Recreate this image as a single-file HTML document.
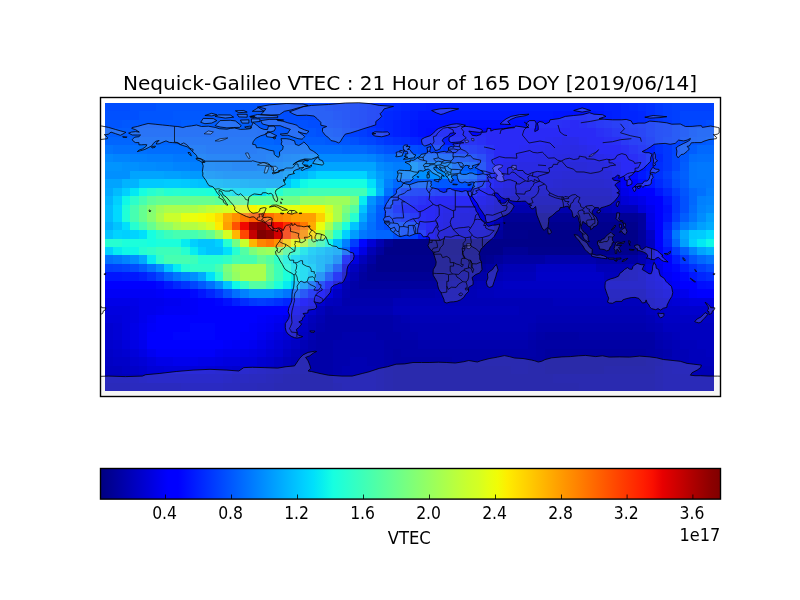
<!DOCTYPE html>
<html><head><meta charset="utf-8"><title>Nequick-Galileo VTEC</title>
<style>
html,body{margin:0;padding:0;background:#fff;overflow:hidden}
svg{display:block}
text{font-family:"DejaVu Sans","Bitstream Vera Sans","Liberation Sans",sans-serif;fill:#000}
</style></head><body>
<svg width="800" height="600" viewBox="0 0 800 600">
<defs><linearGradient id="jet" x1="0" x2="1" y1="0" y2="0"><stop offset="0.0000" stop-color="#000080"/><stop offset="0.0156" stop-color="#000092"/><stop offset="0.0312" stop-color="#0000a4"/><stop offset="0.0469" stop-color="#0000b6"/><stop offset="0.0625" stop-color="#0000c8"/><stop offset="0.0781" stop-color="#0000da"/><stop offset="0.0938" stop-color="#0000ed"/><stop offset="0.1094" stop-color="#0000ff"/><stop offset="0.1250" stop-color="#0000ff"/><stop offset="0.1406" stop-color="#0010ff"/><stop offset="0.1562" stop-color="#0020ff"/><stop offset="0.1719" stop-color="#0030ff"/><stop offset="0.1875" stop-color="#0040ff"/><stop offset="0.2031" stop-color="#0050ff"/><stop offset="0.2188" stop-color="#0060ff"/><stop offset="0.2344" stop-color="#0070ff"/><stop offset="0.2500" stop-color="#0080ff"/><stop offset="0.2656" stop-color="#0090ff"/><stop offset="0.2812" stop-color="#00a0ff"/><stop offset="0.2969" stop-color="#00b0ff"/><stop offset="0.3125" stop-color="#00c0ff"/><stop offset="0.3281" stop-color="#00d0ff"/><stop offset="0.3438" stop-color="#00e0fb"/><stop offset="0.3594" stop-color="#09f0ee"/><stop offset="0.3750" stop-color="#16ffe1"/><stop offset="0.3906" stop-color="#23ffd4"/><stop offset="0.4062" stop-color="#30ffc7"/><stop offset="0.4219" stop-color="#3cffba"/><stop offset="0.4375" stop-color="#49ffad"/><stop offset="0.4531" stop-color="#56ffa0"/><stop offset="0.4688" stop-color="#63ff94"/><stop offset="0.4844" stop-color="#70ff87"/><stop offset="0.5000" stop-color="#7dff7a"/><stop offset="0.5156" stop-color="#8aff6d"/><stop offset="0.5312" stop-color="#97ff60"/><stop offset="0.5469" stop-color="#a4ff53"/><stop offset="0.5625" stop-color="#b1ff46"/><stop offset="0.5781" stop-color="#beff39"/><stop offset="0.5938" stop-color="#caff2c"/><stop offset="0.6094" stop-color="#d4ff23"/><stop offset="0.6250" stop-color="#e4ff13"/><stop offset="0.6406" stop-color="#f1fc06"/><stop offset="0.6562" stop-color="#feed00"/><stop offset="0.6719" stop-color="#ffde00"/><stop offset="0.6875" stop-color="#ffd000"/><stop offset="0.7031" stop-color="#ffc100"/><stop offset="0.7188" stop-color="#ffb200"/><stop offset="0.7344" stop-color="#ffa300"/><stop offset="0.7500" stop-color="#ff9400"/><stop offset="0.7656" stop-color="#ff8600"/><stop offset="0.7812" stop-color="#ff7700"/><stop offset="0.7969" stop-color="#ff6800"/><stop offset="0.8125" stop-color="#ff5900"/><stop offset="0.8281" stop-color="#ff4a00"/><stop offset="0.8438" stop-color="#ff3b00"/><stop offset="0.8594" stop-color="#ff2d00"/><stop offset="0.8750" stop-color="#ff1e00"/><stop offset="0.8906" stop-color="#fa0f00"/><stop offset="0.9062" stop-color="#e80000"/><stop offset="0.9219" stop-color="#d60000"/><stop offset="0.9375" stop-color="#c40000"/><stop offset="0.9531" stop-color="#b10000"/><stop offset="0.9688" stop-color="#9f0000"/><stop offset="0.9844" stop-color="#8d0000"/><stop offset="1.0000" stop-color="#800000"/></linearGradient>
<clipPath id="ax"><rect x="100.5" y="97.5" width="620" height="299"/></clipPath>
</defs>
<rect width="800" height="600" fill="#fff"/>
<g shape-rendering="crispEdges">
<path fill="#004dff" d="M105 103h25v8h-25zM274 103h17v8h-17zM283 111h17v9h-17zM308 120h17v8h-17zM706 120h8v8h-8zM333 128h9v9h-9zM680 137h9v8h-9zM393 145h25v9h-25zM452 154h8v8h-8zM469 179h8v9h-8zM384 196h9v9h-9zM384 222h9v8h-9zM130 264h9v8h-9zM706 264h8v8h-8zM325 272h8v9h-8z"/>
<path fill="#0050ff" d="M130 103h26v8h-26zM257 103h17v8h-17zM105 111h34v9h-34zM266 111h17v9h-17zM283 120h25v8h-25zM316 128h17v9h-17zM689 128h8v9h-8zM350 137h9v8h-9zM384 145h9v9h-9zM672 179h8v9h-8zM680 196h9v9h-9zM680 205h9v8h-9zM393 230h8v9h-8zM333 264h9v8h-9z"/>
<path fill="#0055ff" d="M156 103h101v8h-101zM139 111h34v9h-34zM232 111h34v9h-34zM105 120h17v8h-17zM266 120h17v8h-17zM300 128h16v9h-16zM697 128h17v9h-17zM333 137h17v8h-17zM689 137h8v8h-8zM680 145h9v9h-9zM672 171h8v8h-8zM452 179h17v9h-17zM680 188h9v8h-9zM672 222h8v8h-8zM689 255h8v9h-8zM223 289h9v9h-9z"/>
<path fill="#0048ff" d="M291 103h17v8h-17zM300 111h16v9h-16zM325 120h8v8h-8zM689 120h17v8h-17zM680 128h9v9h-9zM359 137h8v8h-8zM418 145h8v9h-8zM672 154h8v8h-8zM672 162h8v9h-8zM393 188h8v8h-8zM393 222h8v8h-8z"/>
<path fill="#0045ff" d="M308 103h17v8h-17zM316 111h17v9h-17zM680 111h34v9h-34zM333 120h9v8h-9zM680 120h9v8h-9zM342 128h8v9h-8zM367 137h9v8h-9zM672 145h8v9h-8zM460 154h9v8h-9zM401 222h9v8h-9zM401 230h9v9h-9zM122 264h8v8h-8zM156 272h8v9h-8zM190 281h8v8h-8z"/>
<path fill="#0040ff" d="M325 103h8v8h-8zM672 103h42v8h-42zM333 111h9v9h-9zM672 111h8v9h-8zM342 120h8v8h-8zM672 120h8v8h-8zM350 128h9v9h-9zM672 128h8v9h-8zM672 137h8v8h-8zM426 145h9v9h-9zM663 171h9v8h-9zM672 188h8v8h-8zM410 230h8v9h-8zM113 264h9v8h-9zM697 264h9v8h-9z"/>
<path fill="#003dff" d="M333 103h17v8h-17zM663 103h9v8h-9zM342 111h8v9h-8zM663 111h9v9h-9zM359 128h8v9h-8zM376 137h8v8h-8zM663 137h9v8h-9zM435 145h8v9h-8zM469 154h8v8h-8zM477 162h9v9h-9zM477 171h9v8h-9zM384 213h9v9h-9zM672 213h8v9h-8zM410 222h8v8h-8zM350 239h9v8h-9zM672 247h8v8h-8zM105 264h8v8h-8zM300 289h8v9h-8zM257 298h9v8h-9z"/>
<path fill="#0038ff" d="M350 103h9v8h-9zM655 103h8v8h-8zM350 111h9v9h-9zM655 111h8v9h-8zM350 120h9v8h-9zM663 120h9v8h-9zM663 128h9v9h-9zM663 145h9v9h-9zM663 154h9v8h-9zM663 162h9v9h-9zM663 179h9v9h-9zM401 188h9v8h-9zM384 205h9v8h-9zM680 255h9v9h-9zM316 281h9v8h-9zM215 289h8v9h-8zM249 298h8v8h-8zM266 298h8v8h-8z"/>
<path fill="#0035ff" d="M359 103h8v8h-8zM359 111h8v9h-8zM359 120h8v8h-8zM655 120h8v8h-8zM367 128h9v9h-9zM655 128h8v9h-8zM384 137h9v8h-9zM655 137h8v8h-8zM443 145h9v9h-9zM672 196h8v9h-8zM672 205h8v8h-8zM181 281h9v8h-9z"/>
<path fill="#0030ff" d="M367 103h9v8h-9zM646 103h9v8h-9zM367 111h9v9h-9zM646 111h9v9h-9zM393 137h8v8h-8zM655 145h8v9h-8zM477 154h9v8h-9zM655 171h8v8h-8zM410 188h8v8h-8zM663 230h9v9h-9zM689 264h8v8h-8zM147 272h9v9h-9zM274 298h9v8h-9z"/>
<path fill="#002dff" d="M376 103h17v8h-17zM638 103h8v8h-8zM376 111h8v9h-8zM367 120h9v8h-9zM646 120h9v8h-9zM376 128h8v9h-8zM646 128h9v9h-9zM401 137h9v8h-9zM452 145h8v9h-8zM655 162h8v9h-8zM418 188h17v8h-17zM393 213h8v9h-8zM706 272h8v9h-8zM240 298h9v8h-9z"/>
<path fill="#0028ff" d="M393 103h8v8h-8zM629 103h9v8h-9zM384 111h9v9h-9zM638 111h8v9h-8zM376 120h8v8h-8zM638 120h8v8h-8zM646 137h9v8h-9zM655 154h8v8h-8zM477 179h9v9h-9zM655 179h8v9h-8zM435 188h8v8h-8zM663 188h9v8h-9zM393 196h8v9h-8zM663 239h9v8h-9zM173 281h8v8h-8z"/>
<path fill="#0025ff" d="M401 103h9v8h-9zM621 103h8v8h-8zM393 111h8v9h-8zM621 111h17v9h-17zM384 120h9v8h-9zM629 120h9v8h-9zM384 128h9v9h-9zM638 128h8v9h-8zM410 137h8v8h-8zM460 145h9v9h-9zM646 171h9v8h-9zM443 188h9v8h-9zM401 213h9v9h-9zM663 222h9v8h-9zM697 272h9v9h-9zM206 289h9v9h-9zM283 298h8v8h-8z"/>
<path fill="#0020ff" d="M410 103h16v8h-16zM604 103h17v8h-17zM401 111h9v9h-9zM612 111h9v9h-9zM393 120h8v8h-8zM621 120h8v8h-8zM393 128h8v9h-8zM629 128h9v9h-9zM418 137h8v8h-8zM638 137h8v8h-8zM469 145h8v9h-8zM646 145h9v9h-9zM452 188h17v8h-17zM418 230h8v9h-8zM139 272h8v9h-8zM232 298h8v8h-8z"/>
<path fill="#001dff" d="M426 103h178v8h-178zM410 111h8v9h-8zM604 111h8v9h-8zM401 120h9v8h-9zM612 120h9v8h-9zM401 128h9v9h-9zM621 128h8v9h-8zM426 137h17v8h-17zM629 137h9v8h-9zM646 154h9v8h-9zM646 162h9v9h-9zM401 196h9v9h-9zM393 205h8v8h-8zM672 255h8v9h-8zM680 264h9v8h-9zM308 289h8v9h-8z"/>
<path fill="#0058ff" d="M173 111h59v9h-59zM122 120h59v8h-59zM257 120h9v8h-9zM274 128h26v9h-26zM325 137h8v8h-8zM697 137h9v8h-9zM376 145h8v9h-8zM680 154h9v8h-9zM469 162h8v9h-8zM410 179h8v9h-8zM435 179h17v9h-17zM376 213h8v9h-8zM376 222h8v8h-8zM198 281h8v8h-8z"/>
<path fill="#0018ff" d="M418 111h135v9h-135zM596 111h8v9h-8zM604 120h8v8h-8zM443 137h9v8h-9zM477 145h9v9h-9zM638 145h8v9h-8zM486 162h8v9h-8zM638 171h8v8h-8zM646 179h9v9h-9zM469 188h8v8h-8zM663 196h9v9h-9zM410 213h8v9h-8zM122 272h17v9h-17zM689 272h8v9h-8zM164 281h9v8h-9z"/>
<path fill="#0015ff" d="M553 111h17v9h-17zM587 111h9v9h-9zM410 120h8v8h-8zM596 120h8v8h-8zM410 128h8v9h-8zM612 128h9v9h-9zM621 137h8v8h-8zM486 154h8v8h-8zM486 171h8v8h-8zM655 188h8v8h-8zM410 196h8v9h-8zM663 213h9v9h-9zM350 247h9v8h-9zM663 247h9v8h-9zM342 255h8v9h-8zM105 272h17v9h-17zM333 272h9v9h-9zM198 289h8v9h-8z"/>
<path fill="#0010ff" d="M570 111h17v9h-17zM418 120h51v8h-51zM418 128h8v9h-8zM452 137h8v8h-8zM629 145h9v9h-9zM638 154h8v8h-8zM638 162h8v9h-8zM401 205h9v8h-9zM663 205h9v8h-9zM706 281h8v8h-8zM223 298h9v8h-9zM291 298h9v8h-9z"/>
<path fill="#005dff" d="M181 120h76v8h-76zM105 128h110v9h-110zM257 128h17v9h-17zM300 137h25v8h-25zM706 137h8v8h-8zM689 145h8v9h-8zM443 154h9v8h-9zM680 162h9v9h-9zM401 179h9v9h-9zM418 179h17v9h-17zM680 179h9v9h-9zM376 205h8v8h-8zM680 213h9v9h-9zM139 264h8v8h-8zM291 289h9v9h-9z"/>
<path fill="#000dff" d="M469 120h59v8h-59zM587 120h9v8h-9zM426 128h26v9h-26zM604 128h8v9h-8zM460 137h17v8h-17zM486 145h8v9h-8zM638 179h8v9h-8zM418 196h8v9h-8zM418 222h8v8h-8zM325 281h8v8h-8zM697 281h9v8h-9z"/>
<path fill="#0008ff" d="M528 120h34v8h-34zM452 128h17v9h-17zM596 128h8v9h-8zM477 137h9v8h-9zM612 137h9v8h-9zM629 171h9v8h-9zM410 205h8v8h-8zM672 264h8v8h-8zM680 272h9v9h-9zM156 281h8v8h-8zM190 289h8v9h-8z"/>
<path fill="#0005ff" d="M562 120h8v8h-8zM579 120h8v8h-8zM469 128h17v9h-17zM604 137h8v8h-8zM621 145h8v9h-8zM629 154h9v8h-9zM486 179h8v9h-8zM477 188h9v8h-9zM426 196h9v9h-9zM418 213h8v9h-8zM359 239h8v8h-8zM215 298h8v8h-8zM190 323h25v9h-25zM173 332h42v8h-42z"/>
<path fill="#0000ff" d="M570 120h9v8h-9zM486 128h110v9h-110zM486 137h59v8h-59zM587 137h17v8h-17zM494 145h25v9h-25zM596 145h25v9h-25zM494 154h9v8h-9zM621 154h8v8h-8zM494 162h9v9h-9zM621 162h17v9h-17zM494 171h9v8h-9zM621 171h8v8h-8zM629 179h9v9h-9zM638 188h17v8h-17zM435 196h42v9h-42zM655 196h8v9h-8zM418 205h17v8h-17zM655 205h8v8h-8zM426 213h9v9h-9zM655 213h8v9h-8zM426 222h9v8h-9zM655 222h8v8h-8zM655 230h8v9h-8zM655 239h8v8h-8zM663 255h9v9h-9zM663 264h9v8h-9zM672 272h8v9h-8zM105 281h51v8h-51zM680 281h17v8h-17zM164 289h26v9h-26zM316 289h9v9h-9zM697 289h17v9h-17zM198 298h17v8h-17zM300 298h8v8h-8zM198 306h93v9h-93zM156 315h101v8h-101zM156 323h34v9h-34zM215 323h34v9h-34zM147 332h26v8h-26zM215 332h25v8h-25zM147 340h76v9h-76z"/>
<path fill="#0060ff" d="M215 128h42v9h-42zM274 137h26v8h-26zM367 145h9v9h-9zM426 154h17v8h-17zM460 162h9v9h-9zM680 171h9v8h-9zM680 247h9v8h-9zM164 272h9v9h-9z"/>
<path fill="#0065ff" d="M105 137h169v8h-169zM418 154h8v8h-8zM452 162h8v9h-8zM469 171h8v8h-8zM376 230h17v9h-17zM672 239h8v8h-8zM342 247h8v8h-8z"/>
<path fill="#0000fa" d="M545 137h8v8h-8zM579 137h8v8h-8zM519 145h9v9h-9zM503 154h8v8h-8zM612 154h9v8h-9zM621 179h8v9h-8zM646 196h9v9h-9zM655 247h8v8h-8zM156 289h8v9h-8zM689 289h8v9h-8zM190 298h8v8h-8zM190 306h8v9h-8zM257 315h9v8h-9zM147 323h9v9h-9zM249 323h8v9h-8zM240 332h17v8h-17zM223 340h9v9h-9zM156 349h59v8h-59z"/>
<path fill="#0000f6" d="M553 137h9v8h-9zM528 145h17v9h-17zM587 145h9v9h-9zM511 154h8v8h-8zM604 154h8v8h-8zM486 188h8v8h-8zM629 188h9v8h-9zM435 205h8v8h-8zM426 230h9v9h-9zM663 272h9v9h-9zM672 281h8v8h-8zM105 289h51v9h-51zM181 298h9v8h-9zM164 306h26v9h-26zM147 315h9v8h-9zM266 315h8v8h-8zM257 323h9v9h-9zM232 340h17v9h-17z"/>
<path fill="#0000f1" d="M562 137h17v8h-17zM545 145h8v9h-8zM519 154h17v8h-17zM503 162h8v9h-8zM494 179h9v9h-9zM477 196h9v9h-9zM435 213h8v9h-8zM655 255h8v9h-8zM164 298h17v8h-17zM156 306h8v9h-8zM291 306h9v9h-9zM274 315h9v8h-9zM139 323h8v9h-8zM266 323h8v9h-8zM139 332h8v8h-8zM257 332h9v8h-9zM249 340h8v9h-8zM147 349h9v8h-9zM215 349h8v8h-8z"/>
<path fill="#0075ff" d="M105 145h8v9h-8zM206 154h34v8h-34zM266 154h8v8h-8zM689 162h8v9h-8zM689 171h8v8h-8zM689 179h17v9h-17zM689 213h8v9h-8zM706 255h8v9h-8zM147 264h9v8h-9zM173 272h8v9h-8zM283 289h8v9h-8z"/>
<path fill="#0070ff" d="M113 145h34v9h-34zM240 154h26v8h-26zM697 154h17v8h-17zM384 188h9v8h-9zM697 188h9v8h-9zM376 196h8v9h-8zM367 222h9v8h-9zM105 255h8v9h-8zM206 281h9v8h-9zM232 289h8v9h-8z"/>
<path fill="#006dff" d="M147 145h59v9h-59zM257 145h85v9h-85zM384 154h34v8h-34zM689 154h8v8h-8zM452 171h17v8h-17zM689 205h8v8h-8zM367 230h9v9h-9zM308 281h8v8h-8z"/>
<path fill="#0068ff" d="M206 145h51v9h-51zM342 145h25v9h-25zM697 145h17v9h-17zM393 179h8v9h-8zM689 188h8v8h-8zM689 196h8v9h-8zM697 255h9v9h-9z"/>
<path fill="#0000ed" d="M553 145h17v9h-17zM579 145h8v9h-8zM536 154h17v8h-17zM596 154h8v8h-8zM511 162h8v9h-8zM612 162h9v9h-9zM443 205h9v8h-9zM646 205h9v8h-9zM435 222h8v8h-8zM663 281h9v8h-9zM680 289h9v9h-9zM139 298h25v8h-25zM308 298h8v8h-8zM139 306h17v9h-17zM139 315h8v8h-8zM139 340h8v9h-8zM223 349h17v8h-17zM173 357h25v9h-25z"/>
<path fill="#0000e8" d="M570 145h9v9h-9zM553 154h9v8h-9zM587 154h9v8h-9zM519 162h26v9h-26zM503 171h8v8h-8zM612 171h9v8h-9zM621 188h8v8h-8zM638 196h8v9h-8zM452 205h17v8h-17zM443 213h9v9h-9zM655 264h8v8h-8zM105 298h34v8h-34zM283 315h8v8h-8zM130 323h9v9h-9zM274 323h9v9h-9zM130 332h9v8h-9zM266 332h8v8h-8zM257 340h9v9h-9zM240 349h9v8h-9zM156 357h17v9h-17zM198 357h17v9h-17z"/>
<path fill="#0089ff" d="M105 154h8v8h-8zM308 154h59v8h-59zM156 162h17v9h-17zM283 162h8v9h-8zM333 255h9v9h-9zM325 264h8v8h-8zM316 272h9v9h-9z"/>
<path fill="#0084ff" d="M113 154h17v8h-17zM300 154h8v8h-8zM367 154h9v8h-9zM173 162h17v9h-17zM274 162h9v9h-9zM384 162h9v9h-9zM393 171h8v8h-8zM706 196h8v9h-8zM367 205h9v8h-9zM697 205h9v8h-9zM689 247h8v8h-8zM122 255h8v9h-8zM181 272h9v9h-9zM274 289h9v9h-9z"/>
<path fill="#0080ff" d="M130 154h17v8h-17zM291 154h9v8h-9zM190 162h25v9h-25zM266 162h8v9h-8zM401 171h9v8h-9zM384 179h9v9h-9zM697 196h9v9h-9zM342 239h8v8h-8zM240 289h9v9h-9z"/>
<path fill="#007dff" d="M147 154h26v8h-26zM283 154h8v8h-8zM215 162h17v9h-17zM257 162h9v9h-9zM393 162h17v9h-17zM418 162h34v9h-34zM706 188h8v8h-8z"/>
<path fill="#0078ff" d="M173 154h33v8h-33zM274 154h9v8h-9zM376 154h8v8h-8zM232 162h25v9h-25zM697 162h17v9h-17zM697 171h17v8h-17zM706 179h8v9h-8zM367 213h9v9h-9zM680 222h9v8h-9zM359 230h8v9h-8zM672 230h8v9h-8zM113 255h9v9h-9z"/>
<path fill="#0000e4" d="M562 154h25v8h-25zM545 162h8v9h-8zM604 162h8v9h-8zM511 171h17v8h-17zM503 179h8v9h-8zM486 196h8v9h-8zM469 205h8v8h-8zM452 213h8v9h-8zM646 213h9v9h-9zM443 222h9v8h-9zM359 247h8v8h-8zM655 272h8v9h-8zM672 289h8v9h-8zM130 306h9v9h-9zM130 315h9v8h-9zM130 340h9v9h-9zM139 349h8v8h-8zM249 349h8v8h-8zM215 357h8v9h-8z"/>
<path fill="#0094ff" d="M105 162h17v9h-17zM300 162h8v9h-8zM206 171h9v8h-9zM367 196h9v9h-9z"/>
<path fill="#0090ff" d="M122 162h17v9h-17zM410 162h8v9h-8zM105 171h25v8h-25zM215 171h8v8h-8zM274 171h9v8h-9zM410 171h42v8h-42zM130 255h9v9h-9zM156 264h8v8h-8zM190 272h8v9h-8zM215 281h8v8h-8zM249 289h25v9h-25z"/>
<path fill="#008cff" d="M139 162h17v9h-17zM291 162h9v9h-9zM376 162h8v9h-8zM223 171h51v8h-51zM384 171h9v8h-9zM706 205h8v8h-8zM697 213h9v9h-9zM359 222h8v8h-8zM689 222h8v8h-8z"/>
<path fill="#009cff" d="M308 162h8v9h-8zM181 171h9v8h-9zM283 171h8v8h-8zM376 171h8v8h-8zM350 230h9v9h-9zM300 281h8v8h-8z"/>
<path fill="#00a4ff" d="M316 162h60v9h-60zM130 171h34v8h-34zM105 179h17v9h-17zM697 247h9v8h-9z"/>
<path fill="#0000df" d="M553 162h17v9h-17zM587 162h17v9h-17zM528 171h17v8h-17zM511 179h8v9h-8zM612 179h9v9h-9zM494 188h9v8h-9zM629 196h9v9h-9zM477 205h9v8h-9zM460 213h17v9h-17zM452 222h17v8h-17zM646 222h9v8h-9zM350 255h9v9h-9zM342 264h8v8h-8zM655 281h8v8h-8zM325 289h8v9h-8zM663 289h9v9h-9zM689 298h25v8h-25zM105 306h25v9h-25zM300 306h8v9h-8zM122 315h8v8h-8zM122 323h8v9h-8zM283 323h8v9h-8zM122 332h8v8h-8zM274 332h9v8h-9zM266 340h8v9h-8zM257 349h9v8h-9zM147 357h9v9h-9zM223 357h17v9h-17z"/>
<path fill="#0000da" d="M570 162h17v9h-17zM545 171h17v8h-17zM604 171h8v8h-8zM519 179h17v9h-17zM638 205h8v8h-8zM477 213h9v9h-9zM469 222h17v8h-17zM435 230h8v9h-8zM646 264h9v8h-9zM646 272h9v9h-9zM333 281h9v8h-9zM680 298h9v8h-9zM105 315h17v8h-17zM291 315h9v8h-9zM122 340h8v9h-8zM130 349h9v8h-9zM240 357h17v9h-17zM164 366h42v8h-42z"/>
<path fill="#00a0ff" d="M164 171h17v8h-17zM706 213h8v9h-8zM697 222h9v8h-9zM680 239h9v8h-9z"/>
<path fill="#0099ff" d="M190 171h16v8h-16z"/>
<path fill="#00a9ff" d="M291 171h9v8h-9zM266 179h17v9h-17zM376 179h8v9h-8zM105 188h8v8h-8zM359 213h8v9h-8zM680 230h9v9h-9zM333 247h9v8h-9zM139 255h8v9h-8zM325 255h8v9h-8zM198 272h8v9h-8z"/>
<path fill="#00b4ff" d="M300 171h8v8h-8zM367 171h9v8h-9zM122 179h17v9h-17zM223 179h17v9h-17zM376 188h8v8h-8zM105 196h8v9h-8zM325 247h8v8h-8zM706 247h8v8h-8zM316 255h9v9h-9zM316 264h9v8h-9z"/>
<path fill="#00c4ff" d="M308 171h8v8h-8zM190 179h8v9h-8zM283 179h8v9h-8zM359 205h8v8h-8zM113 222h9v8h-9zM350 222h9v8h-9zM105 230h8v9h-8zM198 239h17v8h-17zM206 247h17v8h-17zM316 247h9v8h-9zM308 255h8v9h-8zM164 264h9v8h-9zM308 272h8v9h-8zM223 281h9v8h-9zM291 281h9v8h-9z"/>
<path fill="#00d4ff" d="M316 171h51v8h-51zM113 230h9v9h-9zM130 230h9v9h-9z"/>
<path fill="#0000d6" d="M562 171h42v8h-42zM536 179h17v9h-17zM503 188h8v8h-8zM621 196h8v9h-8zM486 205h8v8h-8zM443 230h9v9h-9zM367 239h9v8h-9zM646 281h9v8h-9zM655 289h8v9h-8zM672 298h8v8h-8zM113 323h9v9h-9zM113 332h9v8h-9zM283 332h8v8h-8zM274 340h9v9h-9zM266 349h8v8h-8zM139 357h8v9h-8zM147 366h17v8h-17zM206 366h9v8h-9z"/>
<path fill="#00c9ff" d="M139 179h25v9h-25zM181 179h9v9h-9zM689 230h8v9h-8z"/>
<path fill="#00ccff" d="M164 179h17v9h-17zM697 230h9v9h-9z"/>
<path fill="#00c0ff" d="M198 179h8v9h-8z"/>
<path fill="#00bcff" d="M206 179h9v9h-9zM113 188h9v8h-9zM105 205h8v8h-8zM105 213h8v9h-8zM333 239h9v8h-9z"/>
<path fill="#00b9ff" d="M215 179h8v9h-8z"/>
<path fill="#00b0ff" d="M240 179h9v9h-9zM105 222h8v8h-8z"/>
<path fill="#00acff" d="M249 179h17v9h-17zM706 222h8v8h-8z"/>
<path fill="#00e0fb" d="M291 179h9v9h-9zM367 179h9v9h-9zM232 188h34v8h-34zM122 222h8v8h-8zM139 230h8v9h-8zM223 247h9v8h-9zM291 255h9v9h-9zM300 264h8v8h-8zM206 272h9v9h-9zM300 272h8v9h-8z"/>
<path fill="#0ff9e7" d="M300 179h8v9h-8zM215 188h8v8h-8zM266 188h8v8h-8zM367 188h9v8h-9zM122 196h8v9h-8zM325 239h8v8h-8zM706 239h8v8h-8zM122 247h17v8h-17zM283 255h8v9h-8zM232 281h8v8h-8z"/>
<path fill="#16ffe1" d="M308 179h59v9h-59zM139 188h8v8h-8zM147 230h9v9h-9zM147 239h9v8h-9z"/>
<path fill="#0000d1" d="M553 179h9v9h-9zM604 179h8v9h-8zM511 188h8v8h-8zM612 188h9v8h-9zM494 196h9v9h-9zM486 213h8v9h-8zM452 230h17v9h-17zM316 298h9v8h-9zM663 298h9v8h-9zM105 323h8v9h-8zM291 323h9v9h-9zM105 332h8v8h-8zM113 340h9v9h-9zM122 349h8v8h-8zM274 349h9v8h-9zM130 357h9v9h-9zM257 357h9v9h-9zM215 366h17v8h-17z"/>
<path fill="#0000cd" d="M562 179h42v9h-42zM519 188h17v8h-17zM486 222h8v8h-8zM469 230h17v9h-17zM646 289h9v9h-9zM655 298h8v8h-8zM308 306h8v9h-8zM680 306h34v9h-34zM300 315h8v8h-8zM291 332h9v8h-9zM105 340h8v9h-8zM283 340h8v9h-8zM113 349h9v8h-9zM266 357h8v9h-8zM139 366h8v8h-8zM232 366h17v8h-17z"/>
<path fill="#00d0ff" d="M122 188h8v8h-8zM113 196h9v9h-9zM122 230h8v9h-8zM342 230h8v9h-8zM190 239h8v8h-8zM215 239h8v8h-8zM689 239h8v8h-8zM105 247h8v8h-8zM198 247h8v8h-8zM308 247h8v8h-8zM300 255h8v9h-8zM308 264h8v8h-8z"/>
<path fill="#02e9f4" d="M130 188h9v8h-9zM697 239h9v8h-9z"/>
<path fill="#26ffd1" d="M147 188h9v8h-9zM173 188h8v8h-8zM274 188h9v8h-9zM350 213h9v9h-9zM130 222h9v8h-9zM333 230h9v9h-9zM105 239h17v8h-17zM223 239h9v8h-9zM139 247h8v8h-8zM181 247h9v8h-9zM232 247h8v8h-8zM291 247h9v8h-9zM198 255h25v9h-25zM181 264h9v8h-9zM215 272h8v9h-8z"/>
<path fill="#30ffc7" d="M156 188h8v8h-8zM147 247h9v8h-9zM156 255h8v9h-8zM223 255h9v9h-9zM274 255h9v9h-9zM190 264h25v8h-25zM240 281h9v8h-9z"/>
<path fill="#23ffd4" d="M164 188h9v8h-9zM181 188h9v8h-9z"/>
<path fill="#1fffd7" d="M190 188h16v8h-16zM122 205h8v8h-8zM122 213h8v9h-8z"/>
<path fill="#1cffdb" d="M206 188h9v8h-9zM342 222h8v8h-8zM122 239h25v8h-25zM156 239h25v8h-25zM283 264h8v8h-8zM283 272h8v9h-8zM274 281h9v8h-9z"/>
<path fill="#06ecf1" d="M223 188h9v8h-9zM359 196h8v9h-8zM181 239h9v8h-9zM113 247h9v8h-9zM190 247h8v8h-8zM300 247h8v8h-8zM147 255h9v9h-9zM173 264h8v8h-8zM291 264h9v8h-9zM291 272h9v9h-9zM283 281h8v8h-8z"/>
<path fill="#3cffba" d="M283 188h25v8h-25zM164 230h9v9h-9zM316 239h9v8h-9zM156 247h25v8h-25zM190 255h8v9h-8zM274 264h9v8h-9zM274 272h9v9h-9zM266 281h8v8h-8z"/>
<path fill="#43ffb4" d="M308 188h59v8h-59z"/>
<path fill="#0000c8" d="M536 188h26v8h-26zM494 205h9v8h-9zM486 230h8v9h-8zM646 255h9v9h-9zM536 272h68v9h-68zM638 272h8v9h-8zM604 281h42v8h-42zM663 306h17v9h-17zM105 349h8v8h-8zM113 357h17v9h-17zM130 366h9v8h-9zM249 366h8v8h-8zM147 374h76v9h-76z"/>
<path fill="#0000c4" d="M562 188h50v8h-50zM503 196h8v9h-8zM612 196h9v9h-9zM646 230h9v9h-9zM536 264h60v8h-60zM638 264h8v8h-8zM342 272h8v9h-8zM503 281h101v8h-101zM333 289h9v9h-9zM646 298h9v8h-9zM655 306h8v9h-8zM663 315h51v8h-51zM300 323h8v9h-8zM291 340h9v9h-9zM283 349h8v8h-8zM105 357h8v9h-8zM274 357h9v9h-9zM122 366h8v8h-8zM257 366h9v8h-9zM139 374h8v9h-8zM223 374h9v9h-9z"/>
<path fill="#2cffca" d="M130 196h9v9h-9zM156 230h8v9h-8z"/>
<path fill="#46ffb1" d="M139 196h8v9h-8zM130 205h9v8h-9zM130 213h9v9h-9zM139 222h8v8h-8zM173 230h25v9h-25zM164 255h26v9h-26zM232 255h25v9h-25zM215 264h8v8h-8z"/>
<path fill="#5dff9a" d="M147 196h9v9h-9zM215 196h59v9h-59zM333 222h9v8h-9z"/>
<path fill="#66ff90" d="M156 196h59v9h-59zM139 205h8v8h-8zM139 213h8v9h-8zM342 213h8v9h-8zM147 222h9v8h-9zM206 230h9v9h-9zM257 255h9v9h-9zM266 264h8v8h-8zM266 272h8v9h-8z"/>
<path fill="#73ff83" d="M274 196h26v9h-26zM325 230h8v9h-8zM232 239h8v8h-8zM308 239h8v8h-8zM223 272h9v9h-9z"/>
<path fill="#94ff63" d="M300 196h25v9h-25zM164 222h9v8h-9zM215 230h8v9h-8zM257 247h9v8h-9zM232 272h8v9h-8z"/>
<path fill="#9dff5a" d="M325 196h25v9h-25zM156 205h8v8h-8zM266 247h8v8h-8zM232 264h8v8h-8z"/>
<path fill="#7dff7a" d="M350 196h9v9h-9zM342 205h8v8h-8zM249 247h8v8h-8zM223 264h9v8h-9z"/>
<path fill="#0000bf" d="M511 196h8v9h-8zM646 239h9v8h-9zM646 247h9v8h-9zM350 264h9v8h-9zM629 264h9v8h-9zM629 272h9v9h-9zM494 281h9v8h-9zM494 289h152v9h-152zM325 298h8v8h-8zM646 306h9v9h-9zM655 315h8v8h-8zM663 323h51v9h-51zM300 332h8v8h-8zM680 332h34v8h-34zM697 340h17v9h-17zM706 349h8v8h-8zM105 366h17v8h-17zM266 366h8v8h-8zM130 374h9v9h-9zM232 374h17v9h-17zM181 383h42v8h-42z"/>
<path fill="#0000bb" d="M519 196h93v9h-93zM612 205h26v8h-26zM494 213h9v9h-9zM359 255h8v9h-8zM503 272h33v9h-33zM604 272h25v9h-25zM486 281h8v8h-8zM477 289h17v9h-17zM333 298h9v8h-9zM553 298h93v8h-93zM316 306h9v9h-9zM393 306h126v9h-126zM308 315h8v8h-8zM672 332h8v8h-8zM680 340h17v9h-17zM291 349h9v8h-9zM689 349h17v8h-17zM283 357h8v9h-8zM689 357h25v9h-25zM274 366h9v8h-9zM105 374h25v9h-25zM249 374h17v9h-17zM130 383h51v8h-51zM223 383h17v8h-17z"/>
<path fill="#00d9ff" d="M113 205h9v8h-9zM113 213h9v9h-9z"/>
<path fill="#83ff73" d="M147 205h9v8h-9z"/>
<path fill="#aaff4d" d="M164 205h34v8h-34zM333 205h9v8h-9zM156 213h8v9h-8zM333 213h9v9h-9zM173 222h8v8h-8zM325 222h8v8h-8zM240 264h26v8h-26zM240 272h26v9h-26z"/>
<path fill="#b4ff43" d="M198 205h8v8h-8zM181 222h17v8h-17zM300 239h8v8h-8z"/>
<path fill="#c1ff36" d="M206 205h9v8h-9zM198 222h8v8h-8zM316 230h9v9h-9z"/>
<path fill="#caff2c" d="M215 205h8v8h-8zM164 213h17v9h-17zM240 239h9v8h-9z"/>
<path fill="#d4ff23" d="M223 205h9v8h-9zM325 205h8v8h-8zM206 222h9v8h-9zM223 230h9v9h-9z"/>
<path fill="#e1ff16" d="M232 205h8v8h-8zM266 205h8v8h-8zM325 213h8v9h-8z"/>
<path fill="#ebff0c" d="M240 205h9v8h-9zM257 205h9v8h-9zM190 213h8v9h-8zM316 222h9v8h-9zM291 239h9v8h-9z"/>
<path fill="#f8f500" d="M249 205h8v8h-8zM300 205h25v8h-25zM206 213h9v9h-9z"/>
<path fill="#e4ff13" d="M274 205h17v8h-17zM181 213h9v9h-9z"/>
<path fill="#e7ff0f" d="M291 205h9v8h-9z"/>
<path fill="#53ffa4" d="M350 205h9v8h-9zM198 230h8v9h-8zM240 247h9v8h-9zM283 247h8v8h-8zM266 255h8v9h-8zM249 281h17v8h-17z"/>
<path fill="#0000ad" d="M503 205h101v8h-101zM545 255h51v9h-51zM494 264h9v8h-9zM401 289h34v9h-34zM342 298h51v8h-51zM325 306h8v9h-8zM393 315h8v8h-8zM316 323h9v9h-9zM393 323h17v9h-17zM536 323h110v9h-110zM342 332h34v8h-34zM401 332h17v8h-17zM528 332h8v8h-8zM308 340h8v9h-8zM333 340h51v9h-51zM418 340h110v9h-110zM655 340h8v9h-8zM308 349h8v8h-8zM333 349h51v8h-51zM663 349h9v8h-9zM300 357h8v9h-8zM333 357h17v9h-17zM367 357h17v9h-17zM300 366h8v8h-8zM333 366h9v8h-9zM376 366h8v8h-8zM655 366h8v8h-8zM283 374h17v9h-17zM376 374h8v9h-8zM655 374h8v9h-8zM274 383h26v8h-26zM333 383h9v8h-9zM376 383h8v8h-8zM655 383h8v8h-8z"/>
<path fill="#0000b2" d="M604 205h8v8h-8zM376 239h8v8h-8zM638 255h8v9h-8zM350 272h9v9h-9zM486 272h8v9h-8zM469 281h8v8h-8zM342 289h8v9h-8zM435 289h25v9h-25zM333 306h60v9h-60zM316 315h9v8h-9zM401 315h9v8h-9zM536 315h110v8h-110zM410 323h50v9h-50zM528 323h8v9h-8zM646 323h9v9h-9zM308 332h8v8h-8zM418 332h110v8h-110zM655 332h8v8h-8zM663 340h9v9h-9zM300 349h8v8h-8zM350 357h17v9h-17zM663 357h9v9h-9zM291 366h9v8h-9zM342 366h34v8h-34zM663 366h9v8h-9zM274 374h9v9h-9zM333 374h43v9h-43zM663 374h51v9h-51zM257 383h17v8h-17zM342 383h34v8h-34zM663 383h51v8h-51z"/>
<path fill="#87ff70" d="M147 213h9v9h-9z"/>
<path fill="#f1fc06" d="M198 213h8v9h-8z"/>
<path fill="#ffde00" d="M215 213h8v9h-8zM308 230h8v9h-8z"/>
<path fill="#ffab00" d="M223 213h9v9h-9zM308 222h8v8h-8z"/>
<path fill="#ff9100" d="M232 213h8v9h-8zM283 213h8v9h-8zM300 230h8v9h-8zM274 239h9v8h-9z"/>
<path fill="#ff7700" d="M240 213h9v9h-9zM300 222h8v8h-8zM266 239h8v8h-8z"/>
<path fill="#ff6000" d="M249 213h8v9h-8z"/>
<path fill="#ff5200" d="M257 213h9v9h-9zM232 222h8v8h-8zM291 222h9v8h-9z"/>
<path fill="#ff6c00" d="M266 213h8v9h-8zM291 230h9v9h-9z"/>
<path fill="#ff8600" d="M274 213h9v9h-9zM257 239h9v8h-9z"/>
<path fill="#ff9f00" d="M291 213h25v9h-25zM223 222h9v8h-9z"/>
<path fill="#ffd000" d="M316 213h9v9h-9zM283 239h8v8h-8z"/>
<path fill="#000096" d="M503 213h135v9h-135zM384 239h9v8h-9zM503 247h25v8h-25zM367 264h9v8h-9zM460 264h17v8h-17zM367 272h76v9h-76z"/>
<path fill="#00009f" d="M638 213h8v9h-8zM638 222h8v8h-8zM376 247h8v8h-8zM638 247h8v8h-8zM359 272h8v9h-8zM452 272h17v9h-17zM359 281h84v8h-84zM545 349h101v8h-101zM545 357h101v9h-101zM545 366h59v8h-59z"/>
<path fill="#8aff6d" d="M156 222h8v8h-8zM274 247h9v8h-9z"/>
<path fill="#ffea00" d="M215 222h8v8h-8z"/>
<path fill="#f10800" d="M240 222h9v8h-9zM274 222h9v8h-9z"/>
<path fill="#a40000" d="M249 222h8v8h-8z"/>
<path fill="#920000" d="M257 222h9v8h-9z"/>
<path fill="#c40000" d="M266 222h8v8h-8zM249 230h8v9h-8z"/>
<path fill="#ff2d00" d="M283 222h8v8h-8z"/>
<path fill="#0000a8" d="M494 222h9v8h-9zM359 264h8v8h-8zM477 272h9v9h-9zM350 281h9v8h-9zM452 281h17v8h-17zM350 289h51v9h-51zM325 315h68v8h-68zM325 323h68v9h-68zM316 332h26v8h-26zM376 332h25v8h-25zM536 332h9v8h-9zM579 332h76v8h-76zM316 340h17v9h-17zM384 340h34v9h-34zM528 340h8v9h-8zM316 349h17v8h-17zM384 349h9v8h-9zM401 349h135v8h-135zM655 349h8v8h-8zM308 357h25v9h-25zM384 357h9v9h-9zM452 357h76v9h-76zM655 357h8v9h-8zM308 366h25v8h-25zM384 366h9v8h-9zM511 366h17v8h-17zM300 374h33v9h-33zM384 374h9v9h-9zM553 374h102v9h-102zM300 383h33v8h-33zM384 383h9v8h-9zM579 383h76v8h-76z"/>
<path fill="#00008d" d="M503 222h135v8h-135zM503 230h25v9h-25zM528 247h110v8h-110zM376 255h110v9h-110zM376 264h76v8h-76z"/>
<path fill="#ffb600" d="M232 230h8v9h-8zM249 239h8v8h-8z"/>
<path fill="#ff4700" d="M240 230h9v9h-9z"/>
<path fill="#800000" d="M257 230h9v9h-9z"/>
<path fill="#8d0000" d="M266 230h8v9h-8z"/>
<path fill="#d10000" d="M274 230h9v9h-9z"/>
<path fill="#ff3800" d="M283 230h8v9h-8z"/>
<path fill="#00009b" d="M494 230h9v9h-9zM638 230h8v9h-8zM638 239h8v8h-8zM494 255h9v9h-9zM477 264h9v8h-9zM443 272h9v9h-9z"/>
<path fill="#000089" d="M528 230h110v9h-110zM393 239h245v8h-245zM384 247h119v8h-119z"/>
<path fill="#00dcfe" d="M706 230h8v9h-8z"/>
<path fill="#0000b6" d="M367 247h9v8h-9zM503 264h33v8h-33zM596 264h33v8h-33zM494 272h9v9h-9zM342 281h8v8h-8zM477 281h9v8h-9zM460 289h17v9h-17zM393 298h160v8h-160zM519 306h127v9h-127zM410 315h126v8h-126zM646 315h9v8h-9zM308 323h8v9h-8zM460 323h68v9h-68zM655 323h8v9h-8zM663 332h9v8h-9zM300 340h8v9h-8zM672 340h8v9h-8zM672 349h17v8h-17zM291 357h9v9h-9zM672 357h17v9h-17zM283 366h8v8h-8zM672 366h42v8h-42zM266 374h8v9h-8zM105 383h25v8h-25zM240 383h17v8h-17z"/>
<path fill="#0000a4" d="M367 255h9v9h-9zM503 255h42v9h-42zM596 255h42v9h-42zM486 264h8v8h-8zM469 272h8v9h-8zM443 281h9v8h-9zM545 332h34v8h-34zM536 340h119v9h-119zM393 349h8v8h-8zM536 349h9v8h-9zM646 349h9v8h-9zM393 357h59v9h-59zM528 357h17v9h-17zM646 357h9v9h-9zM393 366h118v8h-118zM528 366h17v8h-17zM604 366h51v8h-51zM393 374h160v9h-160zM393 383h186v8h-186z"/>
<path fill="#000092" d="M486 255h8v9h-8zM452 264h8v8h-8z"/>
</g>
<g clip-path="url(#ax)">
<path fill="rgba(208,208,208,0.2)" fill-rule="evenodd" stroke="#000" stroke-width="0.8" stroke-linejoin="round" d="M128.6 133.1L131.3 132.1L135.6 131.6L139.3 132.1L137.3 130.8L135.6 129.7L131.7 128.4L132.2 127.5L137.3 126.5L142.3 125.0L148.1 123.5L155.9 124.3L162.6 125.0L169.4 125.7L174.5 126.3L177.9 126.5L182.9 127.5L186.3 126.5L191.4 125.9L196.5 125.0L201.5 126.5L208.3 126.2L215.1 127.4L219.3 128.7L226.9 129.2L230.3 128.4L234.5 128.0L240.4 129.4L247.2 129.1L250.6 128.6L251.4 126.5L253.1 122.6L256.5 124.8L258.2 126.5L260.7 128.2L264.1 129.4L267.5 129.6L268.4 126.2L274.3 126.0L275.5 128.2L274.3 130.8L270.9 131.9L267.5 131.6L267.5 132.8L265.0 134.5L260.7 135.8L255.7 138.4L253.1 141.8L252.6 144.3L255.7 144.8L256.5 147.7L260.7 147.7L264.1 148.5L269.2 150.2L273.8 150.9L274.3 154.4L276.0 156.1L278.5 157.3L279.7 155.3L279.4 151.9L282.7 149.4L283.2 146.0L281.0 144.3L281.9 141.8L281.0 138.7L286.1 138.7L289.5 139.2L294.6 140.9L295.4 144.3L298.8 145.5L302.2 143.4L303.9 141.9L308.1 146.0L309.8 149.4L313.2 151.1L316.6 153.6L318.6 155.6L317.4 157.0L311.5 159.2L304.7 159.0L299.7 160.4L295.4 162.6L292.9 164.8L298.0 161.5L303.0 160.9L304.2 161.5L302.2 163.2L303.9 165.4L305.6 166.3L309.0 166.8L311.5 164.9L311.5 166.3L309.8 167.5L305.6 168.7L302.2 170.5L301.0 169.7L303.0 167.6L303.9 167.3L299.7 168.0L299.7 168.7L296.3 169.7L293.7 171.0L293.4 173.0L294.6 173.4L292.0 174.1L288.2 175.1L287.8 176.4L286.5 178.1L285.3 177.4L285.8 179.0L284.4 181.5L283.9 179.0L283.6 181.2L284.9 183.2L285.3 184.6L283.1 185.6L281.0 186.8L278.8 188.3L276.0 190.0L275.3 192.5L276.6 195.9L277.7 198.8L277.2 201.3L276.0 201.6L274.6 200.1L273.1 197.2L272.9 195.0L270.9 193.3L268.4 193.9L265.8 192.7L262.4 192.8L261.6 194.7L259.1 194.5L254.3 193.9L252.3 194.7L248.9 197.1L248.4 200.1L247.6 206.0L248.6 209.4L250.6 212.0L253.1 213.3L257.4 212.6L259.6 211.1L260.1 208.6L264.1 207.6L266.2 208.1L265.0 211.1L264.1 213.1L262.8 217.0L263.6 217.5L267.5 217.2L270.9 217.5L272.3 218.7L271.6 223.0L271.4 225.5L272.9 227.9L275.1 228.9L278.0 228.0L280.2 228.2L282.1 229.4L283.1 230.6L285.3 226.2L286.5 225.3L289.5 224.8L291.7 223.1L292.4 225.5L294.6 224.6L294.6 223.5L297.1 225.8L301.3 226.2L303.9 226.8L308.1 226.0L309.8 228.0L310.7 229.7L313.2 230.6L315.7 233.4L320.0 233.9L324.2 235.3L325.9 236.8L327.6 241.1L328.4 243.3L328.4 244.1L331.0 244.9L331.8 245.8L336.9 246.6L338.1 248.3L342.8 249.0L347.0 250.0L350.1 252.2L353.5 253.1L354.1 256.3L353.3 259.7L350.4 262.7L347.9 266.1L347.0 269.5L346.7 274.2L345.3 277.9L343.6 281.3L341.9 283.0L339.4 283.0L336.9 284.4L334.3 285.0L331.0 287.7L330.8 290.6L330.1 292.8L327.6 295.7L325.0 298.6L322.5 301.6L320.0 303.1L316.6 302.5L314.2 301.6L316.2 305.0L316.6 307.5L314.9 309.2L308.1 310.1L307.8 313.0L303.0 313.5L305.1 316.0L302.7 317.7L302.2 320.2L298.8 321.9L301.7 323.9L298.8 327.5L296.3 329.5L297.3 332.6L297.1 333.8L298.8 335.5L302.7 336.6L300.5 337.5L297.1 338.0L294.6 337.7L291.2 336.3L287.8 333.8L286.1 331.2L285.3 327.8L285.3 323.6L287.0 321.1L288.7 318.5L289.5 315.2L288.2 311.8L288.7 308.4L289.5 306.4L291.2 302.5L291.9 299.9L292.0 294.9L292.4 291.5L293.7 287.2L294.1 283.0L294.2 277.9L294.1 275.1L292.0 273.4L288.7 271.7L285.3 269.5L283.9 267.4L282.4 264.4L280.2 261.0L278.5 257.6L276.0 254.3L275.5 251.7L277.2 249.9L277.7 248.3L276.0 247.8L276.3 245.8L277.7 243.6L279.4 241.6L280.2 239.9L281.9 237.7L282.2 234.8L281.9 232.3L281.2 231.9L280.2 229.7L278.5 229.0L277.3 230.2L277.7 231.6L276.0 231.2L274.3 230.2L272.6 230.2L271.4 229.6L269.5 227.5L267.9 226.3L267.9 225.2L265.0 222.3L263.3 221.8L260.7 220.9L258.2 220.4L256.9 219.4L254.0 216.9L252.0 216.9L249.8 217.5L246.4 216.5L243.8 215.3L240.4 213.6L237.1 212.0L234.5 209.8L234.9 207.7L233.2 204.9L230.3 201.8L227.9 198.9L226.1 196.9L223.2 195.0L221.8 191.7L219.0 190.3L219.0 192.5L221.3 195.0L223.5 198.4L225.2 201.0L226.4 203.2L227.8 204.9L226.9 205.4L226.1 204.3L223.5 202.3L223.2 200.1L220.1 198.3L218.5 197.1L219.8 195.9L217.3 193.0L215.7 190.5L214.9 189.1L212.7 186.6L209.0 185.7L206.8 182.2L205.8 180.2L203.6 177.3L202.7 175.8L202.9 173.0L202.4 171.4L203.2 165.9L202.0 162.2L204.9 162.4L204.6 160.7L201.5 159.0L197.3 157.8L196.5 155.3L193.1 152.2L191.4 150.2L187.2 146.8L182.9 145.5L180.4 144.6L177.0 142.9L172.8 142.6L169.4 142.4L166.0 140.9L161.8 142.6L159.2 143.8L156.2 144.0L157.6 141.2L159.2 140.6L155.9 141.2L153.3 143.4L152.1 145.6L148.2 147.7L144.9 149.4L140.6 150.7L137.3 151.6L138.9 150.2L142.3 149.0L145.7 146.8L146.9 144.8L144.9 144.6L141.5 144.8L138.9 144.8L138.9 142.6L135.6 142.6L133.5 141.4L132.2 139.6L133.9 138.0L134.7 137.2L138.9 136.7L140.6 135.0L137.3 135.0L132.2 135.0ZM289.5 111.8L298.0 108.8L303.0 106.7L311.5 105.4L328.4 104.5L345.3 103.0L358.9 102.7L370.7 103.7L379.2 105.4L393.5 106.4L384.2 108.8L382.5 111.3L380.0 113.8L381.7 116.4L379.2 118.9L375.8 121.5L375.8 124.8L370.7 126.5L363.9 128.6L357.2 130.8L350.4 133.0L345.3 134.1L342.8 137.5L340.3 141.8L338.6 142.9L335.2 141.4L331.0 140.6L328.4 137.5L325.5 135.5L322.5 131.6L322.5 128.2L326.7 126.5L320.8 125.2L320.8 122.3L317.4 118.9L314.0 116.0L306.4 115.2L297.1 115.5L292.9 113.8ZM302.2 139.2L298.0 138.7L292.0 136.7L287.8 135.2L281.9 135.3L280.2 134.1L287.8 133.3L289.0 131.1L290.4 129.4L284.4 127.4L280.2 125.7L274.3 125.7L269.2 125.7L262.4 124.0L260.7 120.6L269.2 119.4L276.0 119.4L282.7 121.1L287.8 122.8L292.9 124.0L297.1 125.3L298.8 127.4L304.7 129.9L309.0 131.3L306.4 133.8L303.0 133.3L298.0 131.6L303.0 135.0L304.7 136.7L303.0 138.4ZM215.1 125.7L220.1 120.6L230.3 120.3L235.4 120.9L241.3 125.7L239.6 127.4L233.7 127.5L226.9 127.9L220.1 127.0ZM200.7 122.3L203.2 118.4L213.4 118.6L216.8 120.6L211.7 123.1L204.9 123.7ZM260.7 114.7L264.1 111.3L257.4 107.1L269.2 104.9L286.1 103.5L303.0 104.0L308.1 105.4L298.0 107.9L291.2 109.9L284.4 111.3L279.4 114.7L270.9 115.0ZM257.4 114.5L277.7 115.9L277.7 117.7L257.4 117.9L250.6 116.4ZM252.3 111.3L259.1 107.1L265.8 108.8L264.1 111.3ZM215.1 116.4L218.5 114.9L230.3 115.0L233.7 117.2L225.2 118.1ZM240.4 120.1L248.9 119.8L248.9 123.1L242.1 123.1ZM251.4 118.9L259.9 118.9L259.9 121.5L251.4 122.3ZM265.8 133.3L270.1 132.4L276.8 135.8L272.6 137.5L266.7 136.7ZM312.7 163.4L315.7 158.7L318.6 157.0L319.1 159.5L322.5 160.7L323.7 163.7L322.5 165.1L319.1 164.6ZM269.4 207.1L272.6 205.2L276.8 205.0L281.9 207.2L286.1 209.1L287.5 209.9L281.9 210.4L281.0 209.1L277.7 207.2L274.3 206.2ZM287.1 213.0L289.5 210.4L294.6 210.6L297.3 212.6L294.6 213.1L292.0 214.2ZM280.5 213.0L283.9 213.5L282.7 214.0L280.7 213.5ZM299.3 213.0L301.9 213.1L301.3 213.6L299.3 213.6ZM371.9 133.3L374.9 131.8L382.5 132.1L387.6 131.9L390.0 134.1L387.6 135.3L381.7 136.8L374.9 136.0L372.4 134.5L375.8 133.6ZM403.0 183.5L404.0 183.4L407.9 184.4L409.6 184.7L413.0 183.5L418.1 181.8L424.8 181.5L429.6 181.0L431.6 181.5L430.8 183.2L431.6 184.9L430.3 186.6L431.6 187.6L435.0 188.4L438.9 189.5L439.2 190.8L443.5 192.5L446.8 191.7L446.8 189.1L450.2 188.4L452.2 189.6L455.3 190.5L458.7 191.1L462.1 191.8L463.8 191.1L465.4 190.6L467.6 191.3L468.1 193.3L468.3 195.0L469.7 196.7L470.5 199.3L472.2 202.7L473.4 205.2L475.6 208.6L476.1 211.1L478.1 213.6L479.8 217.9L482.4 220.4L485.7 223.0L486.3 224.6L488.3 226.3L492.5 225.2L495.9 225.0L499.6 224.1L499.3 226.3L497.6 230.6L494.2 236.5L490.8 239.9L489.6 240.7L485.7 244.1L483.2 247.1L481.2 248.8L480.2 250.9L479.0 254.3L479.8 255.9L479.8 259.3L481.5 261.9L481.7 266.1L482.0 269.5L479.8 272.9L475.6 274.6L472.0 277.6L473.1 281.3L473.1 284.7L468.8 287.2L468.5 288.1L468.5 291.5L465.4 294.7L463.8 297.4L460.4 299.9L457.0 301.3L453.6 301.8L450.2 302.0L446.8 303.0L444.3 302.1L444.0 299.6L442.3 295.7L440.9 292.5L438.7 289.1L437.5 284.7L437.5 282.8L435.8 279.6L433.3 275.4L433.0 273.2L433.3 269.5L435.8 265.2L436.2 261.9L435.3 259.0L433.8 254.3L433.0 251.9L431.6 250.4L429.1 248.0L427.9 245.3L429.1 243.3L429.4 240.7L429.6 238.2L429.1 237.3L427.4 236.5L424.8 236.7L423.2 236.8L421.5 234.3L420.4 233.4L418.8 233.3L415.0 233.8L412.7 234.8L409.6 236.0L407.6 235.5L406.2 235.1L402.8 236.0L400.1 236.7L397.3 235.3L394.7 233.4L393.5 232.4L391.3 230.9L390.5 229.7L390.5 228.4L389.8 228.0L388.0 226.0L387.1 225.0L384.7 223.1L384.6 221.6L383.4 219.2L385.1 217.0L385.4 213.6L385.6 211.5L384.2 208.7L385.4 206.0L386.3 203.8L388.0 201.3L388.8 199.8L391.0 197.2L393.9 195.5L396.1 193.7L396.6 192.3L396.4 190.6L397.4 189.0L400.1 187.3L402.0 186.1ZM496.4 264.4L498.1 270.0L496.7 272.9L495.9 276.2L494.2 281.3L492.5 286.4L489.6 287.4L487.4 286.4L486.3 282.2L487.9 277.9L487.4 273.7L490.0 271.2L492.5 269.5L494.2 266.9ZM403.4 159.3L407.1 159.0L410.5 158.3L415.2 157.7L414.4 157.0L415.9 154.9L413.5 154.4L413.0 153.3L411.0 151.7L410.3 150.2L409.3 149.4L407.4 149.4L409.3 148.2L410.0 146.7L407.1 146.5L406.2 146.7L407.8 145.0L404.5 145.0L403.2 146.8L403.4 148.5L403.7 150.4L404.9 150.0L404.5 151.4L407.1 151.2L407.6 152.7L407.9 153.8L405.4 153.9L405.9 154.8L406.1 155.6L404.2 156.3L407.1 157.1L407.9 157.3L405.9 157.5ZM396.1 156.8L399.0 156.5L402.3 155.8L402.8 153.9L403.7 151.9L402.5 150.7L400.3 150.5L398.6 151.7L396.1 152.4L396.4 153.9L396.9 155.3L395.6 156.1ZM431.6 110.5L440.1 108.8L450.2 108.3L458.7 108.8L450.2 111.3L443.5 113.8L440.9 114.5L436.7 113.0ZM500.1 124.0L502.7 121.5L506.0 118.9L511.1 116.4L519.6 114.7L528.9 114.2L526.3 115.5L516.2 117.2L511.1 119.3L507.7 121.5L510.3 124.5L504.4 124.3ZM573.7 110.5L582.2 107.9L590.6 110.5L582.2 112.1ZM644.8 117.2L653.2 115.5L666.8 116.7L660.0 117.6L649.8 118.1ZM634.4 186.6L637.2 184.0L642.2 183.9L644.4 181.0L647.3 181.0L649.0 179.0L649.8 176.4L650.3 174.4L652.2 174.1L652.4 175.6L653.2 177.3L651.5 179.5L651.4 181.7L651.2 183.7L649.5 184.9L647.8 185.4L644.8 185.6L644.4 186.1L642.7 187.4L641.4 185.6L638.0 186.1L636.3 186.6ZM634.4 186.8L636.0 187.8L635.5 190.8L634.1 191.5L633.3 189.6L632.4 187.9ZM637.2 186.9L640.5 186.2L640.2 187.8L638.0 188.6ZM650.2 173.9L650.3 171.0L652.7 167.3L655.8 169.2L658.8 169.3L659.1 170.8L655.4 173.0L651.5 172.2ZM653.2 166.3L655.6 164.9L654.6 162.9L657.5 160.9L655.3 158.7L655.4 155.3L654.4 152.2L653.2 153.6L652.9 157.0L653.6 161.2L653.1 163.7ZM617.7 201.5L619.4 201.8L618.5 204.3L617.4 206.9L616.2 205.2L616.5 203.5ZM596.9 211.5L599.1 210.1L600.8 210.9L599.1 213.1L596.9 212.6ZM548.0 227.7L550.4 229.7L551.4 232.3L550.0 233.8L548.3 233.9L547.8 230.6ZM616.8 212.8L619.7 213.0L619.4 216.2L618.5 218.7L620.2 220.4L622.8 220.8L622.8 222.8L621.1 221.3L618.5 220.9L617.2 219.9L616.0 218.7L616.5 216.2ZM619.4 232.3L621.9 229.6L625.3 227.5L627.0 231.4L626.2 233.4L625.1 234.6L622.8 233.1L621.9 231.4ZM619.4 224.1L621.4 224.6L621.6 228.0L620.2 228.0L619.4 226.3ZM623.3 223.0L625.3 223.5L625.6 225.5L624.5 227.2L623.6 225.8ZM611.3 229.9L615.2 225.0L615.5 226.3L612.3 230.1ZM597.4 241.6L598.4 240.7L600.8 241.2L601.5 239.5L604.2 238.7L605.9 236.3L609.2 233.6L610.9 232.3L612.1 233.6L614.7 235.3L612.6 236.8L612.3 239.0L612.6 240.7L614.3 242.4L612.3 242.7L611.8 245.5L610.1 247.1L609.2 250.0L606.7 250.9L604.2 249.5L601.6 249.2L599.4 249.0L599.1 246.6L597.7 244.6ZM574.2 234.6L577.9 235.3L580.0 237.8L582.8 240.2L584.7 241.2L587.2 243.1L588.6 245.8L589.8 247.5L592.3 249.2L592.0 253.9L589.8 253.9L587.2 251.7L584.7 249.2L582.8 245.8L580.5 242.9L578.8 240.2L576.2 237.8ZM591.0 255.6L592.7 254.1L596.5 255.3L600.4 254.9L603.7 255.8L606.7 257.1L606.5 258.8L601.6 258.1L596.5 257.3L593.0 256.6ZM607.5 258.0L610.9 258.1L614.3 258.1L614.0 259.2L609.2 259.2ZM615.8 258.3L621.1 258.0L620.7 259.0L616.0 259.2ZM621.9 261.5L624.5 259.3L627.8 258.3L627.0 259.3L623.6 261.4ZM614.3 260.2L617.4 260.5L616.3 261.5ZM615.7 242.7L617.7 241.9L621.1 242.6L624.8 241.4L623.6 243.4L621.1 243.4L617.7 243.4L616.3 245.6L618.5 245.6L621.6 245.3L619.4 247.1L618.5 247.5L619.9 249.7L621.1 251.7L619.4 252.2L617.7 249.2L616.8 249.2L616.7 253.4L615.2 253.4L615.2 250.0L614.0 248.8L614.8 246.3ZM628.7 240.7L630.4 241.6L629.5 244.1L630.0 245.5L629.0 243.3ZM629.5 249.2L634.3 249.7L632.9 250.4L629.5 250.0ZM634.6 245.5L637.2 244.8L639.7 245.5L640.0 248.3L642.2 249.7L646.1 246.8L651.5 248.5L657.5 250.7L660.0 253.4L663.0 255.4L661.7 255.9L663.4 258.0L668.1 262.0L663.4 261.2L661.7 260.2L658.3 257.3L655.8 258.3L654.9 259.7L651.5 259.5L648.1 258.0L646.5 258.3L647.8 255.9L646.5 253.6L643.1 251.9L638.8 250.5L637.7 250.9L637.5 248.8L636.3 248.8L634.6 246.6ZM664.2 253.6L667.6 253.4L670.5 251.2L670.1 253.4L666.8 254.8ZM605.3 282.2L606.7 280.5L610.6 278.9L614.3 277.9L618.5 276.2L619.9 273.2L621.9 272.0L624.5 269.5L627.5 267.6L629.5 269.1L632.1 269.3L632.9 266.6L634.3 265.1L637.2 263.4L641.4 264.7L644.4 264.7L643.1 267.3L642.2 269.5L645.6 271.5L649.0 273.7L651.2 273.7L652.4 270.3L652.7 266.1L654.1 262.4L655.8 265.2L656.3 268.3L658.8 269.5L659.1 272.0L660.3 275.9L664.2 278.3L665.9 281.3L668.1 283.5L671.5 286.4L672.2 289.8L672.8 292.7L671.8 296.5L669.6 299.9L668.8 301.6L667.1 305.0L666.8 307.4L663.4 308.2L660.5 310.1L658.0 308.6L655.8 309.7L651.5 308.6L649.5 306.7L649.0 304.7L647.3 303.3L646.1 299.9L645.3 302.5L642.4 303.0L640.0 299.9L638.8 298.4L635.0 297.4L631.2 297.6L626.2 298.7L622.8 299.9L621.9 301.4L616.0 301.4L612.6 303.3L609.2 303.0L607.5 302.1L608.7 298.2L607.5 295.4L606.2 291.5L605.0 288.1L605.0 285.5ZM657.8 313.0L660.8 313.6L663.9 313.3L663.9 315.5L662.5 317.2L660.3 317.9L658.8 316.0ZM705.2 302.3L707.9 304.2L709.9 306.2L710.7 307.7L715.0 307.9L713.8 310.4L712.4 310.9L711.6 313.5L709.0 314.5L709.0 311.8L707.0 310.6L708.5 309.2L708.2 306.7L705.7 303.3ZM705.2 312.6L707.9 314.3L705.7 316.8L704.8 318.0L702.3 320.2L701.4 321.9L698.9 322.9L696.4 322.3L694.7 321.6L697.2 318.9L700.6 317.2L703.1 314.8ZM690.4 278.1L695.5 281.8L694.3 281.8L690.4 278.9ZM108.5 376.1L125.4 376.6L142.3 376.1L145.7 374.7L159.2 373.5L176.2 371.5L193.1 370.1L210.0 369.3L226.9 370.1L238.8 371.0L243.8 367.6L252.3 367.3L264.1 367.6L277.7 368.1L286.1 366.7L294.6 365.9L298.0 360.8L299.7 358.3L303.0 354.9L308.1 352.4L314.9 351.2L316.6 351.5L313.2 353.2L309.8 355.8L305.6 357.4L308.1 360.8L309.8 365.1L310.7 368.4L308.1 371.0L311.5 371.5L320.0 373.5L328.4 375.2L341.9 376.1L352.1 376.1L362.2 373.5L369.0 371.8L379.2 368.4L387.6 366.7L396.1 364.2L404.5 363.9L413.0 362.5L421.5 362.5L429.9 362.5L438.4 362.2L446.8 362.5L455.3 363.0L463.8 361.7L468.8 360.5L477.3 362.0L480.7 360.8L489.1 358.6L497.6 357.1L504.4 355.6L509.4 356.6L514.5 358.0L523.0 358.5L531.4 360.0L534.8 360.8L538.2 362.0L541.6 361.3L545.0 359.6L551.7 357.8L561.9 356.9L570.3 356.6L578.8 355.8L585.6 355.4L595.7 356.6L602.5 355.8L609.2 357.1L619.4 356.9L629.5 357.1L639.7 356.1L649.8 356.9L656.6 357.8L663.4 359.5L670.1 360.2L680.3 361.3L687.1 363.4L693.8 364.2L701.4 365.1L700.6 367.6L697.2 370.1L692.1 372.7L690.4 375.2L695.0 375.7L700.6 375.7L709.0 376.1L717.5 376.1L734.4 376.6L734.4 399.7L91.6 399.7L91.6 376.6ZM204.9 115.5L211.7 113.3L216.8 114.7L211.7 115.9ZM237.1 114.3L247.2 114.3L247.2 117.2L238.8 116.9ZM249.8 116.4L254.8 116.4L254.0 117.7L250.6 117.6ZM244.7 127.0L250.6 126.0L251.4 128.0L246.4 128.0ZM235.4 110.8L243.8 110.5L247.2 112.1L238.8 112.7ZM276.8 119.4L283.6 119.8L282.7 120.9L277.7 120.6ZM272.6 137.5L276.0 137.9L274.3 138.9ZM303.9 159.7L308.5 160.5L307.3 161.0L304.1 160.0ZM304.2 164.8L308.1 165.4L307.3 166.3L304.7 165.8ZM196.0 158.2L200.7 159.0L204.1 162.1L201.9 162.1L199.0 160.5L196.5 159.5ZM188.0 152.4L190.0 152.7L191.4 155.8L189.2 154.4ZM151.6 146.8L155.4 146.0L155.0 147.3L152.0 148.0ZM122.5 136.7L127.1 137.0L126.3 137.5L122.9 137.2ZM308.3 226.0L310.0 225.8L309.8 227.0L308.3 227.0ZM309.8 330.9L314.9 331.1L314.0 332.4L310.7 332.1ZM417.1 176.6L418.8 176.8L418.1 177.6ZM503.5 222.8L505.2 223.0L504.0 223.3ZM280.7 201.8L281.6 203.2L281.0 203.8ZM281.4 198.8L282.7 199.3L282.4 200.1ZM149.3 209.9L150.8 210.8L149.8 212.0L149.1 210.9ZM714.1 273.4L715.1 273.9L714.1 274.9L712.9 274.2ZM694.7 269.5L695.9 270.3L696.4 272.0L695.2 270.5ZM682.8 257.6L685.0 259.3L685.2 260.7L683.3 259.8ZM434.1 179.8L439.2 179.5L438.5 182.0L434.1 180.5ZM426.9 174.7L429.4 174.7L429.2 177.8L427.2 178.1ZM427.5 172.2L429.1 171.4L428.9 173.9L427.7 173.7ZM452.8 184.0L457.5 184.4L457.0 184.9L452.9 184.6ZM467.6 184.9L471.4 183.9L470.5 185.1L468.3 185.6ZM396.9 178.6L398.1 174.7L397.3 171.4L399.5 170.2L404.5 170.5L410.0 170.7L411.0 168.8L411.0 166.3L409.3 164.3L405.0 162.2L407.9 161.5L410.3 161.9L410.0 160.0L413.2 160.4L415.5 159.2L417.2 157.7L418.9 157.1L420.3 155.8L421.1 154.4L424.8 153.6L427.4 152.9L427.5 150.2L426.9 147.7L430.8 146.5L430.4 148.5L429.9 150.2L429.9 151.9L431.6 152.7L434.1 152.1L437.0 152.9L440.9 151.9L444.3 151.4L446.5 152.1L448.5 150.5L448.5 147.7L451.1 146.5L453.6 147.3L454.1 145.5L452.8 144.0L458.7 143.4L463.8 142.8L461.2 141.8L455.3 142.3L451.1 142.6L449.0 140.9L449.0 137.5L454.4 134.5L455.8 133.3L453.6 132.8L450.2 133.3L448.5 135.8L443.5 138.4L442.1 140.9L444.3 142.6L444.3 144.3L440.9 146.8L440.1 149.0L437.2 150.2L435.0 150.4L434.5 148.9L433.0 146.5L431.6 144.3L430.8 143.4L429.1 144.6L424.8 146.0L422.3 144.3L421.5 140.9L421.8 139.2L424.8 137.5L429.9 135.8L433.3 133.3L435.8 130.4L438.4 128.6L442.6 126.9L446.8 125.7L451.9 124.3L456.5 123.8L460.4 124.2L465.4 125.2L463.8 126.2L468.8 126.7L473.9 127.4L481.5 129.4L482.7 131.3L479.8 132.4L472.2 131.6L468.8 131.1L471.4 134.1L472.2 135.3L476.4 135.8L480.7 134.6L481.5 132.4L486.6 131.9L487.4 128.2L490.8 128.6L490.8 131.1L494.2 129.6L503.5 128.6L509.4 128.0L514.5 127.7L515.3 126.0L522.1 126.9L526.3 127.7L528.9 127.4L526.3 125.7L526.3 123.1L529.7 120.6L534.8 120.6L536.2 123.1L535.6 127.4L534.8 129.9L534.8 131.6L538.2 129.9L538.2 126.5L537.3 123.1L539.9 121.5L543.3 122.3L545.0 124.0L549.2 122.3L550.0 119.8L559.3 118.6L565.3 116.4L573.7 115.5L582.2 114.7L589.4 112.7L594.0 114.2L602.5 114.7L605.9 116.4L599.1 118.6L604.2 119.3L612.6 119.8L621.9 119.8L626.2 119.4L631.2 120.9L632.9 124.0L638.0 123.1L644.8 123.1L649.8 121.1L658.3 121.8L666.8 122.8L671.8 124.2L680.3 124.0L683.7 125.7L685.4 126.5L692.1 126.4L697.2 125.9L701.4 125.7L702.3 127.4L710.7 126.0L717.5 127.4L719.2 127.9L719.2 132.8L717.5 134.1L715.0 134.8L713.3 134.6L716.7 137.5L716.3 138.7L709.0 139.6L704.0 141.2L701.1 142.6L694.7 142.6L691.3 142.8L689.3 146.0L687.1 146.3L689.3 149.0L687.1 151.4L683.7 154.1L681.1 154.6L678.1 157.8L676.4 155.3L676.9 151.1L676.1 147.7L678.6 146.0L683.7 143.4L687.1 141.8L689.9 140.1L690.4 138.4L687.1 140.1L683.7 140.9L678.6 140.1L675.2 143.4L670.1 144.3L665.1 143.4L658.3 143.8L654.1 144.3L650.7 146.8L646.5 149.4L642.2 151.6L645.6 152.7L649.0 152.7L652.0 154.1L650.7 157.8L650.7 161.2L647.3 164.6L643.1 168.8L638.0 171.7L636.0 171.0L634.1 172.5L632.4 174.7L628.7 176.8L630.0 178.8L631.9 181.5L631.9 184.0L629.5 185.2L627.0 185.9L627.0 183.2L627.2 180.5L624.5 179.8L624.8 177.3L623.3 176.4L619.4 178.1L618.7 178.3L619.4 175.6L617.7 175.1L614.3 177.8L612.1 178.1L613.5 180.2L616.8 180.7L620.2 181.2L616.8 183.2L614.8 184.9L616.8 187.4L619.0 190.3L619.0 192.0L616.8 192.8L619.4 193.7L618.5 196.2L616.0 199.3L614.3 201.5L612.6 202.8L610.1 204.9L606.4 206.2L604.2 206.9L600.8 207.9L599.6 209.8L598.6 207.7L595.7 207.6L593.5 209.4L592.0 212.0L593.2 214.5L596.2 217.0L597.9 221.3L597.7 224.3L594.9 226.5L593.7 226.5L593.2 228.0L590.6 229.6L590.6 227.2L588.1 226.2L586.4 223.8L583.9 222.6L583.0 221.3L582.2 223.8L581.0 226.3L581.0 228.5L582.7 230.1L583.0 231.4L584.7 232.6L586.4 233.9L588.1 236.5L588.1 239.4L589.3 241.7L587.8 241.6L584.4 239.4L583.0 237.0L582.7 233.9L581.3 232.3L579.3 230.6L579.6 227.2L580.0 223.8L578.8 220.4L578.3 217.9L577.9 216.2L576.8 215.3L574.6 217.4L572.9 217.0L572.5 213.6L571.5 210.6L569.1 208.6L568.3 206.4L566.1 206.4L563.6 207.2L560.2 207.7L559.3 210.3L556.8 211.5L552.2 215.7L548.8 217.9L548.7 221.8L548.0 226.7L546.6 228.4L545.3 229.2L544.1 230.4L542.1 228.0L540.4 223.8L538.7 219.6L537.0 215.3L536.2 212.0L536.0 208.6L535.6 206.5L533.1 208.9L531.4 208.6L529.7 206.4L531.8 205.2L528.9 204.3L526.9 202.7L525.5 201.1L521.3 201.3L517.0 201.6L512.8 201.1L509.8 200.5L509.1 198.4L507.7 198.4L505.2 199.1L501.8 197.6L499.3 195.4L497.9 193.3L495.6 192.8L494.2 193.7L495.0 196.2L497.2 198.4L497.9 199.8L498.9 201.8L499.8 199.9L500.3 201.8L500.1 203.0L502.7 203.3L505.2 203.0L507.7 199.9L508.4 199.6L508.6 202.1L512.3 204.2L514.2 206.0L512.3 209.4L510.6 212.0L508.6 213.6L506.0 215.3L501.3 217.0L495.9 220.1L489.1 222.4L486.6 222.6L485.7 219.6L485.2 216.5L482.4 212.0L479.3 207.7L477.3 203.5L474.7 200.1L472.2 196.7L471.9 194.2L470.9 197.1L468.8 195.4L468.1 193.3L467.6 191.3L470.9 191.1L472.2 188.6L473.6 184.9L474.2 182.2L471.4 182.0L468.0 183.0L464.9 181.8L462.1 182.9L459.2 182.0L457.8 179.0L457.3 177.3L457.3 176.4L457.0 175.1L453.6 174.9L452.8 176.1L451.6 175.6L451.4 177.3L453.6 179.8L453.6 180.3L451.9 180.0L451.9 182.4L451.1 182.5L449.7 181.8L448.9 180.2L448.5 178.6L446.8 176.9L445.8 175.6L446.0 173.9L444.3 172.2L440.9 170.5L438.4 168.8L437.5 167.5L436.0 168.1L436.2 166.8L433.8 167.5L434.0 169.2L436.0 170.5L437.5 172.5L440.4 173.4L444.3 176.3L441.8 175.6L441.1 177.1L441.9 178.1L440.2 180.0L439.6 179.5L440.1 177.3L438.9 176.1L437.2 175.1L434.1 173.7L431.6 172.2L430.4 170.5L428.1 169.0L425.7 170.0L423.2 171.2L421.1 170.7L418.4 171.0L418.4 172.5L416.7 174.1L413.5 176.1L412.5 177.3L413.3 178.5L411.8 180.3L409.6 181.8L405.6 182.0L403.9 183.0L402.3 182.2L400.5 181.2L397.8 181.5ZM460.5 173.7L462.4 174.4L466.3 174.4L469.7 173.0L472.2 173.0L474.7 174.2L478.1 174.7L483.2 173.7L482.9 171.7L479.8 170.0L476.9 168.5L474.9 167.6L476.4 167.1L477.3 165.8L479.3 164.4L477.3 164.4L474.7 165.1L472.2 165.9L473.1 167.3L472.9 168.0L470.0 169.0L468.0 167.3L469.7 166.1L466.8 165.3L464.9 165.6L463.2 167.5L461.4 170.0L460.0 171.9ZM-211.2 181.5L-212.1 178.6L-210.9 174.7L-211.7 171.4L-209.5 170.2L-204.5 170.5L-199.1 170.7L-198.0 168.8L-198.0 166.3L-199.7 164.3L-204.0 162.2L-201.1 161.5L-198.7 161.9L-199.1 160.0L-195.8 160.4L-193.5 159.2L-191.8 157.7L-190.1 157.1L-188.7 155.8L-187.9 154.4L-184.2 153.6L-181.6 152.9L-181.5 150.2L-182.1 147.7L-178.2 146.5L-178.6 148.5L-179.1 150.2L-179.1 151.9L-177.4 152.7L-174.9 152.1L-172.0 152.9L-168.1 151.9L-164.7 151.4L-162.5 152.1L-160.5 150.5L-160.5 147.7L-157.9 146.5L-155.4 147.3L-154.9 145.5L-156.3 144.0L-150.3 143.4L-145.3 142.8L-147.8 141.8L-153.7 142.3L-157.9 142.6L-160.0 140.9L-160.0 137.5L-154.6 134.5L-153.2 133.3L-155.4 132.8L-158.8 133.3L-160.5 135.8L-165.6 138.4L-166.9 140.9L-164.7 142.6L-164.7 144.3L-168.1 146.8L-168.9 149.0L-171.8 150.2L-174.0 150.4L-174.5 148.9L-176.0 146.5L-177.4 144.3L-178.2 143.4L-179.9 144.6L-184.2 146.0L-186.7 144.3L-187.6 140.9L-187.2 139.2L-184.2 137.5L-179.1 135.8L-175.7 133.3L-173.2 130.4L-170.6 128.6L-166.4 126.9L-162.2 125.7L-157.1 124.3L-152.5 123.8L-148.6 124.2L-143.6 125.2L-145.3 126.2L-140.2 126.7L-135.1 127.4L-127.5 129.4L-126.3 131.3L-129.2 132.4L-136.8 131.6L-140.2 131.1L-137.6 134.1L-136.8 135.3L-132.6 135.8L-128.3 134.6L-127.5 132.4L-122.4 131.9L-121.6 128.2L-118.2 128.6L-118.2 131.1L-114.8 129.6L-105.5 128.6L-99.6 128.0L-94.5 127.7L-93.7 126.0L-86.9 126.9L-82.7 127.7L-80.1 127.4L-82.7 125.7L-82.7 123.1L-79.3 120.6L-74.2 120.6L-72.9 123.1L-73.4 127.4L-74.2 129.9L-74.2 131.6L-70.8 129.9L-70.8 126.5L-71.7 123.1L-69.1 121.5L-65.8 122.3L-64.1 124.0L-59.8 122.3L-59.0 119.8L-49.7 118.6L-43.8 116.4L-35.3 115.5L-26.8 114.7L-19.6 112.7L-15.0 114.2L-6.5 114.7L-3.2 116.4L-9.9 118.6L-4.8 119.3L3.6 119.8L12.9 119.8L17.1 119.4L22.2 120.9L23.9 124.0L29.0 123.1L35.8 123.1L40.8 121.1L49.3 121.8L57.7 122.8L62.8 124.2L71.3 124.0L74.7 125.7L76.4 126.5L83.1 126.4L88.2 125.9L92.4 125.7L93.3 127.4L101.7 126.0L108.5 127.4L115.3 129.4L120.3 130.8L125.9 132.3L122.0 134.5L120.3 135.3L115.3 133.6L111.0 132.1L108.5 134.1L106.0 134.8L104.3 134.6L107.6 137.5L107.3 138.7L100.0 139.6L95.0 141.2L92.1 142.6L85.7 142.6L82.3 142.8L80.2 146.0L78.0 146.3L80.2 149.0L78.0 151.4L74.7 154.1L72.1 154.6L69.1 157.8L67.4 155.3L67.9 151.1L67.0 147.7L69.6 146.0L74.7 143.4L78.0 141.8L80.9 140.1L81.4 138.4L78.0 140.1L74.7 140.9L69.6 140.1L66.2 143.4L61.1 144.3L56.1 143.4L49.3 143.8L45.1 144.3L41.7 146.8L37.4 149.4L33.2 151.6L36.6 152.7L40.0 152.7L43.0 154.1L41.7 157.8L41.7 161.2L38.3 164.6L34.1 168.8L29.0 171.7L27.0 171.0L25.1 172.5L23.4 174.7L19.7 176.8L21.0 178.8L22.9 181.5L22.9 184.0L20.5 185.2L18.0 185.9L18.0 183.2L18.2 180.5L15.5 179.8L15.8 177.3L14.3 176.4L10.4 178.1L9.7 178.3L10.4 175.6L8.7 175.1L5.3 177.8L3.1 178.1L4.5 180.2L7.8 180.7L11.2 181.2L7.8 183.2L5.8 184.9L7.8 187.4L10.0 190.3L10.0 192.0L7.8 192.8L10.4 193.7L9.5 196.2L7.0 199.3L5.3 201.5L3.6 202.8L1.1 204.9L-2.7 206.2L-4.8 206.9L-8.2 207.9L-9.4 209.8L-10.4 207.7L-13.3 207.6L-15.5 209.4L-17.0 212.0L-15.8 214.5L-12.8 217.0L-11.1 221.3L-11.3 224.3L-14.2 226.5L-15.3 226.5L-15.8 228.0L-18.4 229.6L-18.4 227.2L-20.9 226.2L-22.6 223.8L-25.2 222.6L-26.0 221.3L-26.8 223.8L-28.0 226.3L-28.0 228.5L-26.3 230.1L-26.0 231.4L-24.3 232.6L-22.6 233.9L-20.9 236.5L-20.9 239.4L-19.7 241.7L-21.3 241.6L-24.6 239.4L-26.0 237.0L-26.3 233.9L-27.7 232.3L-29.7 230.6L-29.4 227.2L-29.0 223.8L-30.2 220.4L-30.7 217.9L-31.1 216.2L-32.3 215.3L-34.5 217.4L-36.1 217.0L-36.5 213.6L-37.5 210.6L-39.9 208.6L-40.7 206.4L-42.9 206.4L-45.5 207.2L-48.8 207.7L-49.7 210.3L-52.2 211.5L-56.8 215.7L-60.2 217.9L-60.3 221.8L-61.0 226.7L-62.4 228.4L-63.7 229.2L-64.9 230.4L-66.9 228.0L-68.6 223.8L-70.3 219.6L-72.0 215.3L-72.9 212.0L-73.0 208.6L-73.4 206.5L-75.9 208.9L-77.6 208.6L-79.3 206.4L-77.3 205.2L-80.1 204.3L-82.2 202.7L-83.5 201.1L-87.7 201.3L-92.0 201.6L-96.2 201.1L-99.2 200.5L-99.9 198.4L-101.3 198.4L-103.8 199.1L-107.2 197.6L-109.7 195.4L-111.1 193.3L-113.5 192.8L-114.8 193.7L-114.0 196.2L-111.8 198.4L-111.1 199.8L-110.1 201.8L-109.2 199.9L-108.7 201.8L-108.9 203.0L-106.4 203.3L-103.8 203.0L-101.3 199.9L-100.6 199.6L-100.4 202.1L-96.7 204.2L-94.8 206.0L-96.7 209.4L-98.4 212.0L-100.4 213.6L-103.0 215.3L-107.7 217.0L-113.1 220.1L-119.9 222.4L-122.4 222.6L-123.3 219.6L-123.8 216.5L-126.7 212.0L-129.7 207.7L-131.7 203.5L-134.3 200.1L-136.8 196.7L-137.1 194.2L-138.2 197.1L-140.2 195.4L-140.9 193.3L-141.4 191.3L-138.2 191.1L-136.8 188.6L-135.4 184.9L-134.8 182.2L-137.6 182.0L-141.0 183.0L-144.1 181.8L-147.0 182.9L-149.8 182.0L-151.2 179.0L-151.7 177.3L-151.7 176.4L-152.0 175.1L-155.4 174.9L-156.3 176.1L-157.4 175.6L-157.6 177.3L-155.4 179.8L-155.4 180.3L-157.1 180.0L-157.1 182.4L-157.9 182.5L-159.3 181.8L-160.1 180.2L-160.5 178.6L-162.2 176.9L-163.2 175.6L-163.0 173.9L-164.7 172.2L-168.1 170.5L-170.6 168.8L-171.5 167.5L-173.0 168.1L-172.8 166.8L-175.2 167.5L-175.0 169.2L-173.0 170.5L-171.5 172.5L-168.6 173.4L-164.7 176.3L-167.3 175.6L-167.9 177.1L-167.1 178.1L-168.8 180.0L-169.5 179.5L-168.9 177.3L-170.1 176.1L-171.8 175.1L-174.9 173.7L-177.4 172.2L-178.6 170.5L-181.0 169.0L-183.3 170.0L-185.9 171.2L-187.9 170.7L-190.6 171.0L-190.6 172.5L-192.3 174.1L-195.5 176.1L-196.5 177.3L-195.7 178.5L-197.2 180.3L-199.4 181.8L-203.5 182.0L-205.1 183.0L-206.7 182.2L-208.5 181.2ZM96.1 302.3L98.9 304.2L100.9 306.2L101.7 307.7L106.0 307.9L104.8 310.4L103.4 310.9L102.6 313.5L100.0 314.5L100.0 311.8L98.0 310.6L99.5 309.2L99.2 306.7L96.7 303.3ZM105.1 273.4L106.1 273.9L105.1 274.9L103.9 274.2Z"/>
<path fill="rgba(255,255,255,0.22)" stroke="#000" stroke-width="0.6" d="M492.5 168.0L495.9 165.4L499.3 164.6L502.7 165.4L501.8 167.5L499.3 168.3L498.1 169.2L500.1 171.0L502.3 173.0L501.8 174.2L504.4 175.1L502.7 176.4L503.5 178.1L504.4 181.0L501.0 181.8L497.6 180.8L495.9 179.3L496.4 175.9L497.6 175.8L495.9 173.4L493.7 171.7L493.4 169.7ZM204.1 133.8L208.3 130.9L213.4 131.9L210.8 134.1ZM215.1 140.9L220.1 138.7L227.8 137.9L224.4 139.6L219.3 141.1ZM245.5 153.1L248.1 152.9L250.1 157.8L248.9 158.8L246.4 155.3ZM257.4 164.9L262.4 162.6L267.5 162.9L270.1 164.9L265.8 165.4L260.7 165.3ZM264.1 173.0L265.8 166.6L269.2 166.3L268.4 168.8L266.7 173.0ZM270.1 166.3L276.0 166.3L277.7 168.3L274.8 171.0L273.4 171.0L271.7 169.2L272.1 167.1ZM272.1 173.4L279.4 171.7L277.7 172.5L273.4 173.9ZM278.2 170.8L283.9 169.5L283.6 170.7L279.4 171.0ZM466.8 243.6L470.5 243.8L471.4 246.6L469.3 248.8L466.8 248.3ZM588.9 156.8L592.3 155.8L598.2 150.5L598.7 149.7L595.7 152.4L590.6 154.8ZM512.0 165.4L516.2 165.4L516.2 168.8L512.8 170.2L511.6 168.0ZM462.6 250.9L463.1 254.3L465.1 258.5L464.4 258.6L462.4 254.3ZM470.5 260.3L471.9 263.6L472.5 268.1L471.4 267.8L471.0 263.6ZM464.6 140.4L468.0 140.1L468.8 141.8L465.8 142.8ZM471.4 138.4L473.9 138.7L473.9 140.9L471.9 140.6Z"/>
<path fill="none" stroke="#000" stroke-width="0.72" stroke-linejoin="round" d="M174.5 126.3L174.5 142.1L177.9 142.6L180.4 144.5L183.8 142.9L187.2 145.1L190.0 148.3L193.1 149.4L192.7 151.4M204.6 161.2L252.0 161.2L252.6 160.7L257.4 162.1L261.6 162.9L264.1 162.6L269.5 164.9L271.7 166.3L273.4 167.5L273.6 171.4L272.6 172.7L276.0 172.7L279.4 171.7L279.4 170.5L283.6 169.5L286.1 168.0L292.0 168.0L293.2 167.5L294.6 165.4L295.9 163.9L298.0 164.1L298.3 166.6L299.7 168.0M214.9 189.1L219.0 188.8L225.2 191.1L230.0 191.1L230.0 190.3L232.8 190.3L236.2 194.0L238.8 195.0L240.4 193.7L243.0 195.9L244.7 197.6L245.5 199.4L248.6 200.3M257.0 219.6L257.4 217.9L258.2 217.0L259.9 217.0L259.1 215.0L259.1 214.0L262.1 214.0L262.1 213.6L263.6 212.8M262.1 214.0L262.1 217.2L262.6 217.2M263.6 217.5L261.9 219.7L260.6 220.8M272.3 218.7L269.2 219.6L267.5 220.8L265.3 222.1M261.9 219.7L263.3 220.4L264.5 221.4M271.4 225.7L268.0 225.3M273.3 227.9L272.8 230.4M282.1 229.4L281.2 231.9M291.7 210.8L291.7 213.6M292.2 224.1L289.7 226.5L290.7 228.9L290.4 231.4L294.6 232.3L298.8 233.6L298.3 236.5L299.7 239.4L299.7 242.1M299.7 242.1L294.9 241.2L295.4 243.1L294.6 244.4L295.4 245.8L294.8 251.2M294.8 251.2L291.2 248.3L288.7 246.3L285.6 244.3M285.6 244.3L282.7 243.4L279.7 241.7M285.6 244.3L285.3 246.6L283.6 248.5L281.0 249.7L280.2 251.9L278.5 252.6L277.2 251.5L277.2 249.9M294.8 251.2L289.8 252.9L288.2 256.4L289.8 260.2L293.7 260.2L293.6 262.7L295.4 262.7M295.4 262.7L296.8 265.2L296.3 269.1L295.4 270.3L296.3 272.0L295.4 273.7M295.4 273.7L294.1 275.1M295.4 273.7L297.1 277.1L297.6 280.5L299.3 282.7M295.4 262.7L297.1 262.7L300.5 260.7L302.5 260.7L302.7 264.1L306.4 266.1L309.8 266.9L311.2 269.5L311.2 271.5L314.4 271.7L314.2 273.4L315.4 274.6L315.2 277.1L314.5 278.3M314.5 278.3L312.9 276.7L308.6 277.3L307.1 281.7M299.3 282.7L301.0 281.0L304.2 282.7L307.1 281.7M307.1 281.7L309.8 284.4L314.9 286.7L315.6 287.2L313.9 290.1L318.3 290.3L320.6 287.4M314.5 278.3L315.1 281.5L318.3 281.8L319.1 284.7L321.1 284.9L320.6 287.4M320.6 287.4L322.0 288.9L322.2 290.1L318.6 292.0L315.6 295.2M315.6 295.2L318.3 296.2L321.6 298.1L323.0 299.4L322.7 301.1M315.6 295.2L314.5 298.2L314.2 301.6M299.3 282.7L297.1 286.1L297.5 289.8L294.9 293.2L294.1 297.4L294.6 300.4L293.7 303.8L292.9 307.5L292.0 310.9L291.5 315.2L291.7 319.4L292.0 322.8L290.7 326.1L289.5 328.7L290.7 330.4L291.4 332.1L297.3 332.6M296.9 333.3L296.9 337.0M299.7 242.1L301.3 242.7L303.0 242.1L305.6 240.4L304.4 237.3L307.3 237.3L309.8 236.5L310.3 235.3M310.3 235.3L309.3 233.9L311.8 230.1M310.3 235.3L311.5 235.6L311.8 236.8L311.8 240.2L313.5 242.1L316.6 240.7L317.4 240.9M316.4 233.9L315.2 236.5L314.9 238.5L317.4 240.9M317.4 240.9L318.4 239.9L320.6 240.2M321.6 234.3L321.0 236.5L320.6 240.2M320.6 240.2L323.3 240.4L325.5 237.3M410.0 170.7L414.2 171.9L418.4 172.4M398.1 173.2L399.1 173.0L402.0 173.4L401.3 174.7L401.2 176.9L400.5 179.8L400.5 181.2M425.7 170.0L424.8 168.8L424.7 166.6L423.2 165.9L424.8 163.7L425.9 163.6L426.9 161.2L423.8 160.4L420.1 159.5L417.2 157.7M423.8 160.4L423.2 158.3L423.2 156.5L424.8 155.6L425.2 153.9M418.8 157.1L423.2 157.5M427.5 151.2L429.7 151.4M437.0 152.9L437.7 155.3L438.4 157.8L433.6 159.0L436.3 161.7L435.0 163.6L429.9 163.7L429.2 163.7L425.9 163.6M429.2 163.7L430.6 164.9L428.2 166.5L424.8 166.5M430.6 164.9L433.6 164.6L436.2 165.4L436.2 166.8M436.3 161.7L438.4 161.2L441.8 161.9L441.8 162.9L440.6 164.8L436.2 165.4M438.4 157.8L440.9 159.0L444.8 160.4L451.1 161.0M441.8 161.9L444.8 160.4M451.1 161.0L453.6 158.2L452.9 156.1L453.3 152.9L452.8 152.2M446.5 152.1L451.6 152.1L452.8 152.7L456.1 152.4L458.2 149.9L460.7 149.0L459.9 146.8L459.4 146.7L459.5 145.1L460.4 143.6M451.6 152.1L451.1 150.9L448.9 150.5M448.5 149.2L453.6 148.9L458.2 149.9M454.1 146.2L459.4 146.7M460.4 141.8L466.3 137.9L462.9 135.0L463.8 131.6L461.2 128.2L465.1 126.0M453.6 132.8L453.1 129.9L447.7 127.4M447.7 127.4L456.1 127.4L460.4 125.7L462.1 126.5L465.1 126.0M447.7 127.4L443.5 128.2L440.1 130.8L437.5 133.3L436.2 135.8L433.3 136.7L433.8 140.1L434.1 141.8L432.5 144.3M460.7 149.0L465.4 151.1L468.3 153.6L466.3 156.0L464.6 157.1L458.7 156.6L452.9 156.8M466.3 156.0L470.5 155.6L473.1 158.7L477.3 159.5L480.7 160.2L480.3 162.9L477.6 164.4M451.1 161.0L450.6 162.2L451.9 162.9L455.0 163.2L458.0 162.4L460.7 167.1L463.2 167.5M458.0 162.4L462.1 162.9L463.8 165.4L460.7 167.1M451.4 169.3L458.7 169.5L461.4 170.2M451.4 169.3L449.2 168.3L447.3 166.1L450.2 163.2L450.6 162.2M441.8 162.9L444.8 163.2L447.7 162.4L450.6 162.2M447.3 166.1L444.8 166.5L440.6 164.8M444.8 166.5L445.1 168.1L439.7 167.6L440.1 165.6M445.1 168.1L445.8 170.5L444.3 172.2M439.7 167.6L442.6 171.4M445.8 170.5L447.7 171.7L450.9 172.5M451.4 169.3L450.9 172.5L450.9 174.2L454.4 173.9L457.5 173.6L460.4 173.0M457.5 173.6L457.0 175.1M446.8 176.9L448.5 175.1L450.9 174.2M445.8 173.2L447.7 172.7L448.5 175.1M436.2 166.8L436.2 165.4M400.7 151.1L399.3 151.9L402.3 152.6M473.9 183.2L475.1 181.8L477.3 181.8L484.6 181.2L488.8 181.2L487.4 177.4L488.8 176.9M483.2 173.9L486.6 174.6L488.8 176.9M480.7 170.5L485.7 171.4L491.7 173.4L495.0 173.4M488.8 176.9L491.7 178.3L494.2 177.3L495.7 179.1M486.6 174.6L489.1 174.2L491.7 173.4M489.1 174.2L490.8 176.9L491.7 178.3M484.6 181.2L482.4 185.9L478.6 187.6L473.9 189.1M478.6 187.6L479.3 189.8L475.6 190.8L477.3 192.5L474.7 194.5L472.2 194.4M473.2 188.8L473.1 190.8L472.2 194.2M470.9 191.1L472.0 194.2M472.4 188.1L473.6 187.6L474.9 186.2L473.9 185.6M479.3 189.8L488.6 194.7L491.7 194.9L494.9 195.9M491.7 194.9L493.4 193.3L494.2 193.3M488.8 181.2L490.8 183.5L490.0 186.6L491.2 188.3L493.9 190.3L495.0 193.3M485.4 216.4L486.3 214.5L490.8 215.0L492.5 215.3L501.0 212.0L502.8 216.0M501.0 212.0L506.0 210.3L507.2 206.9L506.4 205.7L502.0 205.4L500.3 203.2M506.4 205.7L507.4 203.2L508.2 202.0M498.9 202.3L499.8 202.7M504.2 181.0L507.7 179.8L510.3 179.8L513.7 181.0L516.5 182.2M516.5 182.2L515.5 186.6L516.2 190.8L515.9 193.7M515.9 193.7L519.6 198.1L517.2 201.5M515.9 193.7L524.7 194.2L525.5 191.7L530.2 190.3L531.4 187.4L533.1 185.7L534.0 183.2L539.7 181.2M516.5 183.9L519.6 184.0L522.1 182.4L525.5 180.8L528.0 181.5L531.4 180.5L534.0 182.0L534.3 179.3L537.3 181.0L539.7 181.2M516.5 182.2L516.5 183.9M528.4 204.0L533.1 202.7L531.4 198.4L534.8 196.7L537.8 193.3L539.0 189.1L538.2 186.6L544.6 184.0M539.7 181.2L544.6 184.0L546.6 186.1L546.6 189.1L550.0 193.0M548.7 195.0L550.0 193.0L555.1 195.4L558.5 196.7L562.0 196.9L561.9 199.4L555.1 197.7L548.7 195.0M562.0 196.9L563.2 196.7L563.2 198.1L564.9 196.4L568.6 197.1L568.6 198.6L563.2 198.8L563.2 198.1M568.6 197.1L572.0 195.0L575.4 194.5L577.6 196.4M577.6 196.4L574.0 199.3L572.9 202.3L570.8 203.5L570.3 206.9L569.7 208.1L569.1 208.9M563.6 207.2L563.2 203.0L562.2 199.4L564.7 199.8L564.9 201.3L569.0 201.6L567.3 203.5L569.1 205.2L569.7 208.1M577.6 196.4L580.0 197.6L578.1 202.1L580.1 203.5L580.8 206.7L582.5 207.7L584.2 208.2L585.9 206.2L588.9 205.7L592.3 205.4L594.0 207.2L595.7 207.6M584.2 208.2L582.3 209.8L578.8 210.8L577.9 212.8L579.6 216.2L579.8 218.7L580.8 223.0L580.1 226.5M582.3 209.8L583.0 211.1L584.2 211.1L583.9 214.0L585.7 213.3L588.9 213.1L590.3 216.2L591.6 217.7L591.6 219.7L587.2 220.1L586.4 221.3L587.1 224.3M591.6 219.7L594.9 219.2L594.9 223.3L592.3 224.3L592.2 225.5L589.8 226.5M585.9 206.2L587.2 208.6L589.8 209.4L588.9 211.1L591.0 212.8L593.2 215.7L594.9 219.2M582.3 233.1L583.9 234.3L585.7 233.6M598.4 240.7L599.1 242.4L602.1 242.4L604.2 241.6L607.2 241.6L608.9 239.0L608.4 236.8L611.9 237.0M651.5 248.5L651.5 259.5M622.8 259.8L624.8 259.7M561.5 160.9L566.9 167.1L573.7 169.2L576.2 171.9L583.9 172.0L590.6 173.4L599.1 171.9L602.5 170.2L602.3 168.0L607.5 167.3L610.4 165.8L615.7 165.1L612.3 162.9L609.2 162.9L608.9 159.7L610.4 159.9M561.5 160.9L565.3 159.0L569.5 158.2L573.7 159.5L578.8 158.7L579.3 156.1L586.1 157.3L586.4 158.8L594.0 159.2L599.1 160.9L606.7 159.2L610.4 159.9M610.4 159.9L614.8 159.0L617.2 155.3L621.9 153.6L626.2 154.9L628.7 159.5L633.8 161.5L634.6 163.4L640.9 162.4L638.3 167.8L635.0 168.3L635.1 170.7L633.9 172.4M633.9 172.4L629.5 173.0L627.5 173.6L623.3 176.4M627.3 180.2L630.2 178.8M561.5 160.9L558.0 162.4L557.6 164.4L553.4 164.3L552.2 167.1L548.7 168.0L549.7 171.0L548.7 172.9L543.1 174.7L538.2 176.3L537.7 177.3L539.7 181.2M495.0 165.4L492.5 162.9L491.7 159.9L495.0 158.5L499.3 156.6L505.2 157.8L511.1 157.8L517.0 158.2L516.2 153.6L523.0 152.1L529.7 150.5L533.1 152.4L537.3 152.9L542.4 152.2L544.1 153.8L548.3 158.2L554.3 157.8L557.6 160.2L560.7 161.0M501.8 173.4L507.7 174.2L507.7 168.0L512.1 167.0L516.2 169.2L517.9 170.5L523.0 170.5L524.7 173.0L528.0 174.7L531.4 173.0L533.1 172.5L537.3 171.4L539.9 171.7L548.7 172.7M507.7 174.2L509.4 174.2L512.0 171.9L514.5 172.7L516.7 174.4L518.7 176.4L522.1 178.3L525.5 180.8M527.7 181.2L528.5 179.0L527.7 177.3L530.2 175.1L532.4 176.1L537.7 177.3M533.1 172.5L532.4 176.1M409.3 184.7L410.1 187.4L411.0 189.6L406.9 190.8L404.5 193.3L398.3 195.5L398.3 197.9M390.7 197.2L398.3 197.2M398.3 200.1L392.7 200.1L392.7 204.3L391.0 205.2L391.0 208.1L384.2 208.1M398.3 197.9L398.3 200.1M398.3 197.9L404.9 201.8L401.8 201.8L403.7 217.9L396.9 217.9L393.5 218.4L392.4 219.1M392.4 219.1L389.3 216.2L385.1 217.0M404.9 201.8L415.0 208.4L418.1 211.6L420.1 211.6M420.1 211.6L423.2 210.6L433.3 204.3M433.3 204.3L429.1 199.6L429.9 193.3L429.1 193.0M429.1 193.0L426.5 189.1L427.0 185.7L427.5 181.7M429.1 193.0L430.4 190.5L432.5 187.9M455.3 190.5L455.3 206.9M475.4 206.9L455.3 206.9L455.3 210.3L453.6 210.3L453.6 211.1L440.1 204.5L438.4 205.2L437.0 205.9L433.3 204.3M453.6 211.1L453.6 217.5L451.7 217.9L450.2 222.1L451.1 225.5L453.1 229.4M438.4 205.2L439.2 208.6L439.2 215.5L435.8 219.6L436.0 220.9M420.1 211.6L420.1 216.2L418.9 218.0L414.7 218.7L413.3 218.7M436.0 220.9L429.9 221.8L424.8 222.1L419.8 221.3L419.1 224.3M413.3 218.7L416.7 223.1L419.1 224.3M413.3 218.7L409.6 220.1L406.2 221.8L403.7 224.6L403.7 226.5M392.4 219.1L393.7 223.1L397.8 223.5L399.5 226.8L403.7 226.5M384.7 223.1L389.8 222.8L393.7 223.1M384.6 221.1L389.3 221.1L389.3 221.8L384.6 221.9M387.6 225.5L389.8 224.3L389.8 222.8M390.5 228.9L394.4 227.2L395.6 229.7L397.1 231.6L399.0 231.2L399.5 226.8M393.5 232.4L395.6 229.7M400.3 236.7L399.0 233.4L399.0 231.2M407.8 235.5L408.3 230.6L408.4 228.0L408.3 225.5M403.7 226.5L408.3 227.4M408.3 225.5L413.0 225.3L414.5 225.5L416.7 223.1M415.0 233.8L413.8 229.7L413.0 225.3M415.7 233.6L415.7 228.9L414.5 225.5M417.6 233.3L417.7 228.9L419.1 224.3M427.4 236.3L429.1 233.1L432.5 232.8L435.0 228.0L437.5 224.6L437.0 223.0L436.0 220.9M437.0 222.4L438.4 227.2L436.7 227.5L439.2 231.4M439.2 231.4L445.1 228.9L451.1 225.5M439.2 231.4L437.5 235.6L440.1 240.4L444.5 238.2M444.5 238.2L444.5 236.7L451.1 237.2L455.3 235.6L459.4 235.5M453.1 229.4L459.4 235.5L463.8 237.3L465.4 237.8L470.5 237.0M453.1 229.4L458.7 227.9L463.8 227.5L468.8 226.8L470.5 228.0M478.1 213.6L475.6 215.3L474.7 219.9L473.9 222.6L472.2 225.5L470.5 228.0L468.8 230.6L472.2 235.0M474.7 219.9L477.3 219.2L480.7 219.6L484.7 223.0L485.9 222.6M484.7 223.0L483.7 225.5L485.7 225.5L485.7 228.0L489.1 229.7L494.2 230.6L489.1 235.6L484.1 237.0L482.4 237.5M485.7 225.5L486.3 224.6M472.2 235.0L473.9 236.7L477.3 238.0L482.4 237.5L482.4 245.8L483.2 247.0M472.2 235.0L470.5 237.0L471.4 242.4L470.5 244.1L470.5 245.8M470.5 245.8L476.6 249.2L479.3 252.1M465.4 237.8L465.4 240.7L463.2 243.3L463.1 246.5M463.1 246.5L464.6 245.8L470.5 245.8M463.1 246.5L462.1 248.8L462.6 251.5L462.9 254.3L464.9 258.1M464.6 245.8L465.1 248.2L464.4 250.5L463.1 251.7M462.1 248.8L465.1 248.2M464.9 258.1L468.7 260.0L470.5 260.2L472.0 263.7L476.4 263.9L481.3 261.9M468.7 260.0L469.3 262.7L468.3 267.1L471.2 268.5L472.7 272.7L473.7 269.1L471.5 266.9L472.0 263.7M433.8 254.3L440.9 254.1L442.6 257.6L446.8 256.4L449.9 258.5L450.2 262.7L453.6 262.5M453.6 262.5L453.6 266.1L450.2 266.1L450.2 271.5L452.6 273.9M453.6 262.5L456.1 263.9L459.5 264.9L462.1 266.8L463.4 264.7L461.0 264.1L461.4 259.7L461.9 258.5L464.9 258.1M435.0 252.1L438.9 251.4L440.4 247.5L443.1 244.9L443.5 240.7L444.5 238.2M433.6 253.9L435.0 252.1L433.3 251.9M431.9 250.7L433.3 248.2L437.4 247.5L437.4 244.9L436.5 241.9L435.5 240.4M429.6 240.2L435.5 240.4L440.1 240.4M429.6 242.4L432.1 242.4L432.1 240.2M433.0 273.2L436.7 273.5L444.3 273.5L448.5 274.6L452.6 273.9L455.6 274.2M448.5 275.1L448.5 281.3L446.8 281.3L446.8 292.1M440.9 292.5L442.6 292.7L446.8 292.1M446.8 286.1L448.2 289.4L451.4 287.2L456.1 287.4L458.7 284.0L462.7 281.7M455.6 274.2L457.0 277.1L459.9 278.8L462.7 281.7L466.0 282.0M455.6 274.2L458.7 274.4L461.9 271.0L464.4 270.5M464.4 270.5L468.7 272.4L468.7 277.1L467.8 280.1L466.0 282.0L467.1 285.5L467.1 288.1L467.3 289.4L468.7 289.6M464.4 270.5L464.1 269.1L469.2 267.8L468.3 267.1M458.7 294.2L461.2 292.7L462.7 294.2L461.2 295.9L459.4 295.4L458.7 294.2M465.4 288.1L467.1 288.1M467.3 290.1L465.4 289.8L465.4 288.1"/>
<path fill="none" stroke="#000" stroke-width="0.72" stroke-linejoin="round" d="M524.0 122.0L529.0 125.0L524.0 130.0L522.4 135.0L529.0 143.0L540.0 141.0L550.0 143.0L555.0 148.0M558.0 125.0L560.0 132.0L564.0 135.0L567.0 135.6M484.0 147.0L489.0 148.0L495.0 149.6M538.0 165.0L546.0 165.6M620.5 123.8L624.5 128.8L620.5 132.8L630.4 135.7L640.4 137.7L641.4 141.7M602.7 142.7L612.6 141.7L620.5 139.7L631.4 138.7M580.8 122.8L590.8 121.3L602.7 118.9M500.0 134.0L501.0 130.0L508.0 128.0L514.0 127.0"/>
</g>
<rect x="100.5" y="97.5" width="620" height="299" fill="none" stroke="#000" stroke-width="1.4"/>
<text x="410" y="89.6" font-size="20.08" text-anchor="middle">Nequick-Galileo VTEC : 21 Hour of 165 DOY [2019/06/14]</text>
<rect x="100.5" y="468.5" width="620" height="30.6" fill="url(#jet)" stroke="#000" stroke-width="1.4"/>
<g stroke="#000" stroke-width="0.8" fill="none"><path d="M165.5 499v-4.5"/><path d="M231.5 499v-4.5"/><path d="M297.5 499v-4.5"/><path d="M363.5 499v-4.5"/><path d="M429.5 499v-4.5"/><path d="M495.5 499v-4.5"/><path d="M561.5 499v-4.5"/><path d="M627.1 499v-4.5"/><path d="M692.9 499v-4.5"/></g>
<g font-size="17.3" text-anchor="middle"><text transform="translate(164.6 519) scale(0.905 1)">0.4</text><text transform="translate(230.6 519) scale(0.905 1)">0.8</text><text transform="translate(296.6 519) scale(0.905 1)">1.2</text><text transform="translate(362.6 519) scale(0.905 1)">1.6</text><text transform="translate(428.6 519) scale(0.905 1)">2.0</text><text transform="translate(494.6 519) scale(0.905 1)">2.4</text><text transform="translate(560.6 519) scale(0.905 1)">2.8</text><text transform="translate(626.2 519) scale(0.905 1)">3.2</text><text transform="translate(692.0 519) scale(0.905 1)">3.6</text>
<text transform="translate(409.2 544) scale(0.95 1)">VTEC</text>
</g>
<text transform="translate(720.3 541) scale(0.935 1)" font-size="17.3" text-anchor="end">1e17</text>
</svg>
</body></html>
